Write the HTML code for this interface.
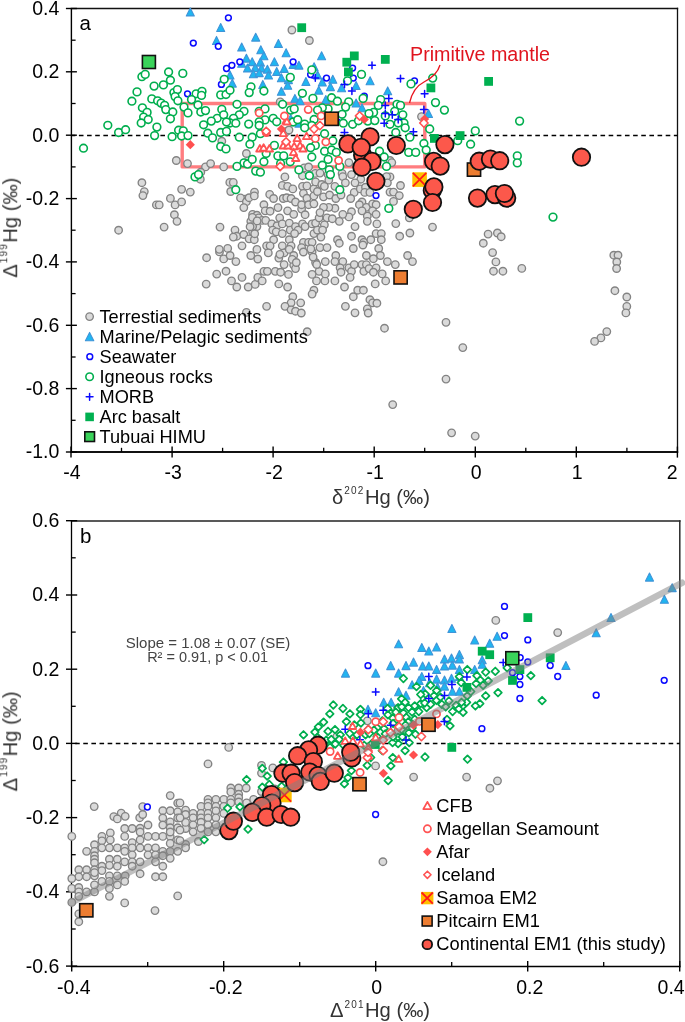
<!DOCTYPE html>
<html><head><meta charset="utf-8"><style>
html,body{margin:0;padding:0;background:#fff;}
svg{display:block;font-family:"Liberation Sans", sans-serif;}
text{will-change:transform;}

.g{fill:#dadada;stroke:#838383;stroke-width:1.35}
.t{fill:#1fb6f1;stroke:#3f94d8;stroke-width:1.1;stroke-linejoin:round}
.s{fill:#fff;stroke:#0a0aff;stroke-width:1.5}
.i{fill:#fff;stroke:#00ae4e;stroke-width:1.6}
.id{fill:#fff;stroke:#00ae4e;stroke-width:1.75;stroke-linejoin:round}
.m{fill:none;stroke:#0a0aff;stroke-width:1.5;stroke-linecap:round}
.ab{fill:#00b050;stroke:none}
.h{fill:#3ad35a;stroke:#111;stroke-width:1.6}
.p{fill:#ed7d31;stroke:#111;stroke-width:1.6}
.sm{fill:#ffc000;stroke:none}
.smx{stroke:#ff1a1a;stroke-width:1.8;fill:none}
.c{fill:#fc584b;stroke:#111;stroke-width:1.8}
.cf{fill:#fff;stroke:#ff5353;stroke-width:1.8;stroke-linejoin:round}
.mg{fill:#fff;stroke:#ff5353;stroke-width:1.7}
.af{fill:#ff4f4f;stroke:none}
.ic{fill:#fff;stroke:#ff5353;stroke-width:1.6;stroke-linejoin:round}

</style></head><body>
<svg width="685" height="1022" viewBox="0 0 685 1022">
<rect width="685" height="1022" fill="#fff"/>
<line x1="70.7" y1="8.5" x2="678.15" y2="8.5" stroke="#111" stroke-width="1.5"/>
<line x1="70.7" y1="452.0" x2="678.15" y2="452.0" stroke="#111" stroke-width="1.8"/>
<line x1="71.4" y1="8.5" x2="71.4" y2="452.9" stroke="#000" stroke-width="1.4"/>
<line x1="677.5" y1="7.75" x2="677.5" y2="452.9" stroke="#111" stroke-width="1.3"/>
<line x1="65.9" y1="8.5" x2="76.9" y2="8.5" stroke="#000" stroke-width="1.4"/>
<text x="59.3" y="14.9" font-size="19.5" text-anchor="end" fill="#000" >0.4</text>
<line x1="65.9" y1="71.8" x2="76.9" y2="71.8" stroke="#000" stroke-width="1.4"/>
<text x="59.3" y="78.2" font-size="19.5" text-anchor="end" fill="#000" >0.2</text>
<line x1="65.9" y1="135.2" x2="76.9" y2="135.2" stroke="#000" stroke-width="1.4"/>
<text x="59.3" y="141.6" font-size="19.5" text-anchor="end" fill="#000" >0.0</text>
<line x1="65.9" y1="198.6" x2="76.9" y2="198.6" stroke="#000" stroke-width="1.4"/>
<text x="59.3" y="205.0" font-size="19.5" text-anchor="end" fill="#000" >-0.2</text>
<line x1="65.9" y1="261.9" x2="76.9" y2="261.9" stroke="#000" stroke-width="1.4"/>
<text x="59.3" y="268.3" font-size="19.5" text-anchor="end" fill="#000" >-0.4</text>
<line x1="65.9" y1="325.3" x2="76.9" y2="325.3" stroke="#000" stroke-width="1.4"/>
<text x="59.3" y="331.7" font-size="19.5" text-anchor="end" fill="#000" >-0.6</text>
<line x1="65.9" y1="388.6" x2="76.9" y2="388.6" stroke="#000" stroke-width="1.4"/>
<text x="59.3" y="395.0" font-size="19.5" text-anchor="end" fill="#000" >-0.8</text>
<line x1="65.9" y1="452.0" x2="76.9" y2="452.0" stroke="#000" stroke-width="1.4"/>
<text x="59.3" y="458.4" font-size="19.5" text-anchor="end" fill="#000" >-1.0</text>
<line x1="71.4" y1="40.2" x2="75.60000000000001" y2="40.2" stroke="#000" stroke-width="1.3"/>
<line x1="71.4" y1="103.5" x2="75.60000000000001" y2="103.5" stroke="#000" stroke-width="1.3"/>
<line x1="71.4" y1="166.9" x2="75.60000000000001" y2="166.9" stroke="#000" stroke-width="1.3"/>
<line x1="71.4" y1="230.2" x2="75.60000000000001" y2="230.2" stroke="#000" stroke-width="1.3"/>
<line x1="71.4" y1="293.6" x2="75.60000000000001" y2="293.6" stroke="#000" stroke-width="1.3"/>
<line x1="71.4" y1="357.0" x2="75.60000000000001" y2="357.0" stroke="#000" stroke-width="1.3"/>
<line x1="71.4" y1="420.3" x2="75.60000000000001" y2="420.3" stroke="#000" stroke-width="1.3"/>
<line x1="71.0" y1="446.6" x2="71.0" y2="457.6" stroke="#000" stroke-width="1.4"/>
<text x="72.0" y="479.3" font-size="19.5" text-anchor="middle" fill="#000" >-4</text>
<line x1="172.1" y1="446.6" x2="172.1" y2="457.6" stroke="#000" stroke-width="1.4"/>
<text x="173.1" y="479.3" font-size="19.5" text-anchor="middle" fill="#000" >-3</text>
<line x1="273.1" y1="446.6" x2="273.1" y2="457.6" stroke="#000" stroke-width="1.4"/>
<text x="274.1" y="479.3" font-size="19.5" text-anchor="middle" fill="#000" >-2</text>
<line x1="374.2" y1="446.6" x2="374.2" y2="457.6" stroke="#000" stroke-width="1.4"/>
<text x="375.2" y="479.3" font-size="19.5" text-anchor="middle" fill="#000" >-1</text>
<line x1="475.3" y1="446.6" x2="475.3" y2="457.6" stroke="#000" stroke-width="1.4"/>
<text x="476.3" y="479.3" font-size="19.5" text-anchor="middle" fill="#000" >0</text>
<line x1="576.3" y1="446.6" x2="576.3" y2="457.6" stroke="#000" stroke-width="1.4"/>
<text x="577.3" y="479.3" font-size="19.5" text-anchor="middle" fill="#000" >1</text>
<line x1="677.4" y1="446.6" x2="677.4" y2="457.6" stroke="#000" stroke-width="1.4"/>
<text x="677.6" y="479.3" font-size="19.5" text-anchor="end" fill="#000" >2</text>
<line x1="121.5" y1="447.8" x2="121.5" y2="452.0" stroke="#000" stroke-width="1.3"/>
<line x1="222.6" y1="447.8" x2="222.6" y2="452.0" stroke="#000" stroke-width="1.3"/>
<line x1="323.7" y1="447.8" x2="323.7" y2="452.0" stroke="#000" stroke-width="1.3"/>
<line x1="424.7" y1="447.8" x2="424.7" y2="452.0" stroke="#000" stroke-width="1.3"/>
<line x1="525.8" y1="447.8" x2="525.8" y2="452.0" stroke="#000" stroke-width="1.3"/>
<line x1="626.9" y1="447.8" x2="626.9" y2="452.0" stroke="#000" stroke-width="1.3"/>
<line x1="71.4" y1="135.5" x2="677.5" y2="135.5" stroke="#000" stroke-width="1.3" stroke-dasharray="4.6 3.55" stroke-dashoffset="0.65"/>
<rect x="182.2" y="103.5" width="242.6" height="63.4" fill="none" stroke="#ff7d80" stroke-width="3.4" stroke-linejoin="round"/>
<circle cx="291.9" cy="30.0" r="3.75" class="g"/>
<circle cx="309.4" cy="40.5" r="3.75" class="g"/>
<circle cx="280.2" cy="101.9" r="3.75" class="g"/>
<circle cx="421.5" cy="116.6" r="3.75" class="g"/>
<circle cx="176.3" cy="160.5" r="3.75" class="g"/>
<circle cx="187.5" cy="163.6" r="3.75" class="g"/>
<circle cx="205.5" cy="166.9" r="3.75" class="g"/>
<circle cx="210.6" cy="163.6" r="3.75" class="g"/>
<circle cx="223.7" cy="166.9" r="3.75" class="g"/>
<circle cx="221.8" cy="141.2" r="3.75" class="g"/>
<circle cx="141.9" cy="182.7" r="3.75" class="g"/>
<circle cx="144.3" cy="191.6" r="3.75" class="g"/>
<circle cx="142.9" cy="195.6" r="3.75" class="g"/>
<circle cx="181.6" cy="189.3" r="3.75" class="g"/>
<circle cx="190.3" cy="192.1" r="3.75" class="g"/>
<circle cx="200.8" cy="172.2" r="3.75" class="g"/>
<circle cx="200.3" cy="179.2" r="3.75" class="g"/>
<circle cx="170.4" cy="198.4" r="3.75" class="g"/>
<circle cx="156.4" cy="204.9" r="3.75" class="g"/>
<circle cx="159.2" cy="204.9" r="3.75" class="g"/>
<circle cx="175.1" cy="204.9" r="3.75" class="g"/>
<circle cx="181.6" cy="201.9" r="3.75" class="g"/>
<circle cx="174.4" cy="214.7" r="3.75" class="g"/>
<circle cx="177.0" cy="221.3" r="3.75" class="g"/>
<circle cx="164.1" cy="227.1" r="3.75" class="g"/>
<circle cx="118.6" cy="230.2" r="3.75" class="g"/>
<circle cx="220.0" cy="227.1" r="3.75" class="g"/>
<circle cx="246.4" cy="153.5" r="3.75" class="g"/>
<circle cx="245.2" cy="162.9" r="3.75" class="g"/>
<circle cx="254.5" cy="192.1" r="3.75" class="g"/>
<circle cx="245.2" cy="199.1" r="3.75" class="g"/>
<circle cx="240.5" cy="197.9" r="3.75" class="g"/>
<circle cx="269.7" cy="194.4" r="3.75" class="g"/>
<circle cx="284.9" cy="176.9" r="3.75" class="g"/>
<circle cx="302.4" cy="175.7" r="3.75" class="g"/>
<circle cx="315.3" cy="173.4" r="3.75" class="g"/>
<circle cx="328.1" cy="174.6" r="3.75" class="g"/>
<circle cx="342.1" cy="173.4" r="3.75" class="g"/>
<circle cx="351.5" cy="174.6" r="3.75" class="g"/>
<circle cx="360.8" cy="179.2" r="3.75" class="g"/>
<circle cx="400.5" cy="185.5" r="3.75" class="g"/>
<circle cx="390.0" cy="192.1" r="3.75" class="g"/>
<circle cx="393.5" cy="192.1" r="3.75" class="g"/>
<circle cx="399.3" cy="195.6" r="3.75" class="g"/>
<circle cx="393.5" cy="201.4" r="3.75" class="g"/>
<circle cx="395.8" cy="223.6" r="3.75" class="g"/>
<circle cx="409.9" cy="233.0" r="3.75" class="g"/>
<circle cx="432.5" cy="227.1" r="3.75" class="g"/>
<circle cx="488.1" cy="234.1" r="3.75" class="g"/>
<circle cx="497.4" cy="233.0" r="3.75" class="g"/>
<circle cx="390.0" cy="176.9" r="3.75" class="g"/>
<circle cx="390.0" cy="160.5" r="3.75" class="g"/>
<circle cx="206.6" cy="257.7" r="3.75" class="g"/>
<circle cx="219.5" cy="251.9" r="3.75" class="g"/>
<circle cx="223.7" cy="258.9" r="3.75" class="g"/>
<circle cx="227.7" cy="248.4" r="3.75" class="g"/>
<circle cx="216.7" cy="274.1" r="3.75" class="g"/>
<circle cx="226.0" cy="271.2" r="3.75" class="g"/>
<circle cx="206.2" cy="284.1" r="3.75" class="g"/>
<circle cx="229.8" cy="182.4" r="3.75" class="g"/>
<circle cx="233.3" cy="182.4" r="3.75" class="g"/>
<circle cx="230.7" cy="191.5" r="3.75" class="g"/>
<circle cx="246.4" cy="201.7" r="3.75" class="g"/>
<circle cx="249.1" cy="197.7" r="3.75" class="g"/>
<circle cx="254.3" cy="195.9" r="3.75" class="g"/>
<circle cx="243.8" cy="207.6" r="3.75" class="g"/>
<circle cx="273.6" cy="198.5" r="3.75" class="g"/>
<circle cx="263.9" cy="204.7" r="3.75" class="g"/>
<circle cx="265.2" cy="210.8" r="3.75" class="g"/>
<circle cx="270.1" cy="211.2" r="3.75" class="g"/>
<circle cx="278.0" cy="207.6" r="3.75" class="g"/>
<circle cx="252.6" cy="214.3" r="3.75" class="g"/>
<circle cx="256.9" cy="215.2" r="3.75" class="g"/>
<circle cx="258.7" cy="217.8" r="3.75" class="g"/>
<circle cx="250.8" cy="221.3" r="3.75" class="g"/>
<circle cx="262.2" cy="220.4" r="3.75" class="g"/>
<circle cx="265.7" cy="220.4" r="3.75" class="g"/>
<circle cx="271.8" cy="223.9" r="3.75" class="g"/>
<circle cx="277.1" cy="225.7" r="3.75" class="g"/>
<circle cx="279.7" cy="217.8" r="3.75" class="g"/>
<circle cx="282.3" cy="185.4" r="3.75" class="g"/>
<circle cx="287.6" cy="186.3" r="3.75" class="g"/>
<circle cx="292.8" cy="188.9" r="3.75" class="g"/>
<circle cx="283.2" cy="198.5" r="3.75" class="g"/>
<circle cx="286.7" cy="197.7" r="3.75" class="g"/>
<circle cx="291.1" cy="198.5" r="3.75" class="g"/>
<circle cx="295.5" cy="202.0" r="3.75" class="g"/>
<circle cx="287.6" cy="210.8" r="3.75" class="g"/>
<circle cx="293.7" cy="214.3" r="3.75" class="g"/>
<circle cx="301.6" cy="209.1" r="3.75" class="g"/>
<circle cx="305.1" cy="214.7" r="3.75" class="g"/>
<circle cx="304.2" cy="167.9" r="3.75" class="g"/>
<circle cx="308.6" cy="167.0" r="3.75" class="g"/>
<circle cx="302.5" cy="186.3" r="3.75" class="g"/>
<circle cx="306.9" cy="185.9" r="3.75" class="g"/>
<circle cx="313.9" cy="188.9" r="3.75" class="g"/>
<circle cx="315.6" cy="181.9" r="3.75" class="g"/>
<circle cx="303.4" cy="193.3" r="3.75" class="g"/>
<circle cx="306.9" cy="198.2" r="3.75" class="g"/>
<circle cx="313.9" cy="195.9" r="3.75" class="g"/>
<circle cx="301.6" cy="204.7" r="3.75" class="g"/>
<circle cx="308.6" cy="204.7" r="3.75" class="g"/>
<circle cx="313.9" cy="203.8" r="3.75" class="g"/>
<circle cx="235.0" cy="230.1" r="3.75" class="g"/>
<circle cx="236.8" cy="236.2" r="3.75" class="g"/>
<circle cx="233.3" cy="237.1" r="3.75" class="g"/>
<circle cx="243.8" cy="234.5" r="3.75" class="g"/>
<circle cx="252.6" cy="231.8" r="3.75" class="g"/>
<circle cx="249.1" cy="238.8" r="3.75" class="g"/>
<circle cx="254.3" cy="239.7" r="3.75" class="g"/>
<circle cx="256.9" cy="226.6" r="3.75" class="g"/>
<circle cx="252.6" cy="226.6" r="3.75" class="g"/>
<circle cx="272.7" cy="230.1" r="3.75" class="g"/>
<circle cx="276.2" cy="231.8" r="3.75" class="g"/>
<circle cx="282.3" cy="223.9" r="3.75" class="g"/>
<circle cx="289.3" cy="223.1" r="3.75" class="g"/>
<circle cx="290.2" cy="230.1" r="3.75" class="g"/>
<circle cx="295.5" cy="226.6" r="3.75" class="g"/>
<circle cx="298.1" cy="230.1" r="3.75" class="g"/>
<circle cx="302.5" cy="223.9" r="3.75" class="g"/>
<circle cx="305.1" cy="226.6" r="3.75" class="g"/>
<circle cx="312.1" cy="223.9" r="3.75" class="g"/>
<circle cx="315.6" cy="223.1" r="3.75" class="g"/>
<circle cx="282.3" cy="233.6" r="3.75" class="g"/>
<circle cx="289.3" cy="239.7" r="3.75" class="g"/>
<circle cx="294.6" cy="233.6" r="3.75" class="g"/>
<circle cx="303.4" cy="242.3" r="3.75" class="g"/>
<circle cx="308.6" cy="242.3" r="3.75" class="g"/>
<circle cx="312.1" cy="242.3" r="3.75" class="g"/>
<circle cx="273.6" cy="239.7" r="3.75" class="g"/>
<circle cx="242.0" cy="245.8" r="3.75" class="g"/>
<circle cx="219.3" cy="249.3" r="3.75" class="g"/>
<circle cx="266.6" cy="245.8" r="3.75" class="g"/>
<circle cx="270.1" cy="245.8" r="3.75" class="g"/>
<circle cx="282.3" cy="245.8" r="3.75" class="g"/>
<circle cx="291.1" cy="245.8" r="3.75" class="g"/>
<circle cx="301.6" cy="247.6" r="3.75" class="g"/>
<circle cx="313.9" cy="233.6" r="3.75" class="g"/>
<circle cx="317.4" cy="230.1" r="3.75" class="g"/>
<circle cx="319.1" cy="217.8" r="3.75" class="g"/>
<circle cx="317.4" cy="191.5" r="3.75" class="g"/>
<circle cx="320.0" cy="173.1" r="3.75" class="g"/>
<circle cx="321.8" cy="184.5" r="3.75" class="g"/>
<circle cx="324.4" cy="186.3" r="3.75" class="g"/>
<circle cx="328.8" cy="180.1" r="3.75" class="g"/>
<circle cx="334.9" cy="186.3" r="3.75" class="g"/>
<circle cx="323.5" cy="196.8" r="3.75" class="g"/>
<circle cx="329.6" cy="195.0" r="3.75" class="g"/>
<circle cx="335.8" cy="198.5" r="3.75" class="g"/>
<circle cx="341.0" cy="195.0" r="3.75" class="g"/>
<circle cx="342.8" cy="176.6" r="3.75" class="g"/>
<circle cx="345.4" cy="182.8" r="3.75" class="g"/>
<circle cx="348.9" cy="162.6" r="3.75" class="g"/>
<circle cx="355.0" cy="182.8" r="3.75" class="g"/>
<circle cx="354.2" cy="192.4" r="3.75" class="g"/>
<circle cx="350.7" cy="198.5" r="3.75" class="g"/>
<circle cx="360.3" cy="188.9" r="3.75" class="g"/>
<circle cx="365.5" cy="187.2" r="3.75" class="g"/>
<circle cx="364.7" cy="192.4" r="3.75" class="g"/>
<circle cx="369.9" cy="192.4" r="3.75" class="g"/>
<circle cx="362.0" cy="202.0" r="3.75" class="g"/>
<circle cx="359.4" cy="204.7" r="3.75" class="g"/>
<circle cx="366.4" cy="207.3" r="3.75" class="g"/>
<circle cx="372.6" cy="203.8" r="3.75" class="g"/>
<circle cx="376.1" cy="204.7" r="3.75" class="g"/>
<circle cx="372.6" cy="210.8" r="3.75" class="g"/>
<circle cx="376.1" cy="214.3" r="3.75" class="g"/>
<circle cx="367.3" cy="216.1" r="3.75" class="g"/>
<circle cx="367.3" cy="221.3" r="3.75" class="g"/>
<circle cx="362.0" cy="210.8" r="3.75" class="g"/>
<circle cx="351.5" cy="211.7" r="3.75" class="g"/>
<circle cx="348.9" cy="216.9" r="3.75" class="g"/>
<circle cx="342.8" cy="214.3" r="3.75" class="g"/>
<circle cx="339.3" cy="221.3" r="3.75" class="g"/>
<circle cx="334.9" cy="208.2" r="3.75" class="g"/>
<circle cx="328.8" cy="207.3" r="3.75" class="g"/>
<circle cx="323.5" cy="207.3" r="3.75" class="g"/>
<circle cx="320.0" cy="212.6" r="3.75" class="g"/>
<circle cx="327.0" cy="217.8" r="3.75" class="g"/>
<circle cx="332.3" cy="218.7" r="3.75" class="g"/>
<circle cx="324.4" cy="224.8" r="3.75" class="g"/>
<circle cx="322.6" cy="230.1" r="3.75" class="g"/>
<circle cx="320.9" cy="237.1" r="3.75" class="g"/>
<circle cx="355.0" cy="226.6" r="3.75" class="g"/>
<circle cx="376.9" cy="223.9" r="3.75" class="g"/>
<circle cx="351.5" cy="236.2" r="3.75" class="g"/>
<circle cx="337.5" cy="239.7" r="3.75" class="g"/>
<circle cx="339.3" cy="243.2" r="3.75" class="g"/>
<circle cx="362.0" cy="239.7" r="3.75" class="g"/>
<circle cx="363.8" cy="242.3" r="3.75" class="g"/>
<circle cx="370.8" cy="239.7" r="3.75" class="g"/>
<circle cx="376.1" cy="233.6" r="3.75" class="g"/>
<circle cx="381.3" cy="233.6" r="3.75" class="g"/>
<circle cx="381.3" cy="239.7" r="3.75" class="g"/>
<circle cx="399.7" cy="236.2" r="3.75" class="g"/>
<circle cx="353.3" cy="248.5" r="3.75" class="g"/>
<circle cx="378.7" cy="248.5" r="3.75" class="g"/>
<circle cx="386.6" cy="176.6" r="3.75" class="g"/>
<circle cx="387.4" cy="182.8" r="3.75" class="g"/>
<circle cx="391.8" cy="162.6" r="3.75" class="g"/>
<circle cx="409.3" cy="217.8" r="3.75" class="g"/>
<circle cx="320.0" cy="247.6" r="3.75" class="g"/>
<circle cx="327.0" cy="247.6" r="3.75" class="g"/>
<circle cx="230.1" cy="255.5" r="3.75" class="g"/>
<circle cx="235.9" cy="261.6" r="3.75" class="g"/>
<circle cx="231.5" cy="280.9" r="3.75" class="g"/>
<circle cx="236.8" cy="287.0" r="3.75" class="g"/>
<circle cx="242.0" cy="277.4" r="3.75" class="g"/>
<circle cx="248.2" cy="287.0" r="3.75" class="g"/>
<circle cx="255.2" cy="284.4" r="3.75" class="g"/>
<circle cx="257.8" cy="277.4" r="3.75" class="g"/>
<circle cx="262.2" cy="280.9" r="3.75" class="g"/>
<circle cx="250.8" cy="255.5" r="3.75" class="g"/>
<circle cx="257.8" cy="259.0" r="3.75" class="g"/>
<circle cx="256.9" cy="249.4" r="3.75" class="g"/>
<circle cx="268.3" cy="252.9" r="3.75" class="g"/>
<circle cx="263.9" cy="271.3" r="3.75" class="g"/>
<circle cx="267.4" cy="271.3" r="3.75" class="g"/>
<circle cx="275.3" cy="271.3" r="3.75" class="g"/>
<circle cx="280.6" cy="272.2" r="3.75" class="g"/>
<circle cx="288.5" cy="274.4" r="3.75" class="g"/>
<circle cx="278.8" cy="258.1" r="3.75" class="g"/>
<circle cx="284.1" cy="252.9" r="3.75" class="g"/>
<circle cx="289.3" cy="249.4" r="3.75" class="g"/>
<circle cx="293.7" cy="255.5" r="3.75" class="g"/>
<circle cx="284.1" cy="264.6" r="3.75" class="g"/>
<circle cx="293.7" cy="265.1" r="3.75" class="g"/>
<circle cx="295.5" cy="268.6" r="3.75" class="g"/>
<circle cx="303.4" cy="252.0" r="3.75" class="g"/>
<circle cx="312.1" cy="252.0" r="3.75" class="g"/>
<circle cx="315.6" cy="262.5" r="3.75" class="g"/>
<circle cx="312.1" cy="274.4" r="3.75" class="g"/>
<circle cx="316.5" cy="280.9" r="3.75" class="g"/>
<circle cx="319.1" cy="271.3" r="3.75" class="g"/>
<circle cx="313.9" cy="290.2" r="3.75" class="g"/>
<circle cx="312.1" cy="294.1" r="3.75" class="g"/>
<circle cx="278.8" cy="283.9" r="3.75" class="g"/>
<circle cx="287.6" cy="287.0" r="3.75" class="g"/>
<circle cx="292.8" cy="296.7" r="3.75" class="g"/>
<circle cx="291.1" cy="302.8" r="3.75" class="g"/>
<circle cx="285.0" cy="306.3" r="3.75" class="g"/>
<circle cx="291.1" cy="309.8" r="3.75" class="g"/>
<circle cx="295.5" cy="311.2" r="3.75" class="g"/>
<circle cx="300.7" cy="302.8" r="3.75" class="g"/>
<circle cx="301.3" cy="313.0" r="3.75" class="g"/>
<circle cx="266.6" cy="306.3" r="3.75" class="g"/>
<circle cx="246.4" cy="312.4" r="3.75" class="g"/>
<circle cx="307.2" cy="331.7" r="3.75" class="g"/>
<circle cx="362.9" cy="245.0" r="3.75" class="g"/>
<circle cx="380.4" cy="255.5" r="3.75" class="g"/>
<circle cx="366.4" cy="255.5" r="3.75" class="g"/>
<circle cx="373.4" cy="258.7" r="3.75" class="g"/>
<circle cx="335.8" cy="255.5" r="3.75" class="g"/>
<circle cx="325.3" cy="261.6" r="3.75" class="g"/>
<circle cx="334.9" cy="261.6" r="3.75" class="g"/>
<circle cx="342.8" cy="261.6" r="3.75" class="g"/>
<circle cx="340.1" cy="267.8" r="3.75" class="g"/>
<circle cx="341.0" cy="272.2" r="3.75" class="g"/>
<circle cx="348.9" cy="267.8" r="3.75" class="g"/>
<circle cx="351.5" cy="271.3" r="3.75" class="g"/>
<circle cx="354.2" cy="264.6" r="3.75" class="g"/>
<circle cx="362.0" cy="264.6" r="3.75" class="g"/>
<circle cx="366.4" cy="264.6" r="3.75" class="g"/>
<circle cx="363.8" cy="271.3" r="3.75" class="g"/>
<circle cx="369.1" cy="268.6" r="3.75" class="g"/>
<circle cx="376.1" cy="267.8" r="3.75" class="g"/>
<circle cx="373.4" cy="272.2" r="3.75" class="g"/>
<circle cx="387.4" cy="261.6" r="3.75" class="g"/>
<circle cx="395.3" cy="264.6" r="3.75" class="g"/>
<circle cx="407.6" cy="255.5" r="3.75" class="g"/>
<circle cx="412.5" cy="261.6" r="3.75" class="g"/>
<circle cx="382.2" cy="273.9" r="3.75" class="g"/>
<circle cx="385.7" cy="280.9" r="3.75" class="g"/>
<circle cx="375.2" cy="283.9" r="3.75" class="g"/>
<circle cx="350.1" cy="277.4" r="3.75" class="g"/>
<circle cx="334.9" cy="280.9" r="3.75" class="g"/>
<circle cx="324.9" cy="280.9" r="3.75" class="g"/>
<circle cx="325.3" cy="273.9" r="3.75" class="g"/>
<circle cx="344.5" cy="287.0" r="3.75" class="g"/>
<circle cx="357.7" cy="290.2" r="3.75" class="g"/>
<circle cx="363.4" cy="290.2" r="3.75" class="g"/>
<circle cx="353.3" cy="296.7" r="3.75" class="g"/>
<circle cx="369.9" cy="299.7" r="3.75" class="g"/>
<circle cx="372.6" cy="302.8" r="3.75" class="g"/>
<circle cx="376.9" cy="303.2" r="3.75" class="g"/>
<circle cx="345.4" cy="306.3" r="3.75" class="g"/>
<circle cx="367.3" cy="308.9" r="3.75" class="g"/>
<circle cx="368.2" cy="313.0" r="3.75" class="g"/>
<circle cx="355.0" cy="312.8" r="3.75" class="g"/>
<circle cx="384.5" cy="328.2" r="3.75" class="g"/>
<circle cx="483.3" cy="243.2" r="3.75" class="g"/>
<circle cx="501.2" cy="236.7" r="3.75" class="g"/>
<circle cx="492.6" cy="252.6" r="3.75" class="g"/>
<circle cx="495.9" cy="261.9" r="3.75" class="g"/>
<circle cx="493.5" cy="271.2" r="3.75" class="g"/>
<circle cx="502.9" cy="271.2" r="3.75" class="g"/>
<circle cx="521.8" cy="268.4" r="3.75" class="g"/>
<circle cx="613.8" cy="255.2" r="3.75" class="g"/>
<circle cx="618.0" cy="255.2" r="3.75" class="g"/>
<circle cx="616.8" cy="262.0" r="3.75" class="g"/>
<circle cx="616.6" cy="268.5" r="3.75" class="g"/>
<circle cx="614.9" cy="290.7" r="3.75" class="g"/>
<circle cx="626.8" cy="297.0" r="3.75" class="g"/>
<circle cx="626.8" cy="306.4" r="3.75" class="g"/>
<circle cx="625.9" cy="312.9" r="3.75" class="g"/>
<circle cx="606.8" cy="331.6" r="3.75" class="g"/>
<circle cx="600.9" cy="337.9" r="3.75" class="g"/>
<circle cx="594.6" cy="341.4" r="3.75" class="g"/>
<circle cx="446.0" cy="322.3" r="3.75" class="g"/>
<circle cx="462.8" cy="347.6" r="3.75" class="g"/>
<circle cx="446.0" cy="379.1" r="3.75" class="g"/>
<circle cx="392.7" cy="404.6" r="3.75" class="g"/>
<circle cx="451.6" cy="432.8" r="3.75" class="g"/>
<circle cx="475.2" cy="436.1" r="3.75" class="g"/>
<circle cx="310.8" cy="248.9" r="3.75" class="g"/>
<circle cx="313.1" cy="257.1" r="3.75" class="g"/>
<circle cx="250.1" cy="226.7" r="3.75" class="g"/>
<circle cx="254.7" cy="233.7" r="3.75" class="g"/>
<circle cx="252.4" cy="217.4" r="3.75" class="g"/>
<circle cx="257.1" cy="220.9" r="3.75" class="g"/>
<circle cx="279.9" cy="254.3" r="3.75" class="g"/>
<circle cx="292.2" cy="259.4" r="3.75" class="g"/>
<circle cx="296.3" cy="262.5" r="3.75" class="g"/>
<circle cx="316.7" cy="264.5" r="3.75" class="g"/>
<circle cx="286.5" cy="131.5" r="3.75" class="g"/>
<circle cx="289.0" cy="130.0" r="3.75" class="g"/>
<path d="M190.3 7.9L194.3 15.9L186.3 15.9Z" class="t"/>
<path d="M220.7 23.6L224.7 31.5L216.7 31.5Z" class="t"/>
<path d="M216.5 36.4L220.5 44.4L212.5 44.4Z" class="t"/>
<path d="M255.7 33.2L259.7 41.1L251.7 41.1Z" class="t"/>
<path d="M278.4 39.5L282.4 47.4L274.4 47.4Z" class="t"/>
<path d="M241.7 43.0L245.7 50.9L237.7 50.9Z" class="t"/>
<path d="M260.8 45.8L264.8 53.7L256.8 53.7Z" class="t"/>
<path d="M263.9 51.8L267.9 59.8L259.9 59.8Z" class="t"/>
<path d="M286.1 48.8L290.1 56.8L282.1 56.8Z" class="t"/>
<path d="M321.6 51.8L325.6 59.8L317.6 59.8Z" class="t"/>
<path d="M246.4 54.2L250.4 62.1L242.4 62.1Z" class="t"/>
<path d="M252.2 57.7L256.2 65.6L248.2 65.6Z" class="t"/>
<path d="M274.4 57.7L278.4 65.6L270.4 65.6Z" class="t"/>
<path d="M260.4 58.1L264.4 66.1L256.4 66.1Z" class="t"/>
<path d="M293.1 60.5L297.1 68.4L289.1 68.4Z" class="t"/>
<path d="M298.9 61.2L302.9 69.1L294.9 69.1Z" class="t"/>
<path d="M241.7 59.3L245.7 67.3L237.7 67.3Z" class="t"/>
<path d="M247.5 64.0L251.5 71.9L243.5 71.9Z" class="t"/>
<path d="M255.2 63.5L259.2 71.5L251.2 71.5Z" class="t"/>
<path d="M261.5 64.0L265.5 71.9L257.5 71.9Z" class="t"/>
<path d="M267.4 65.2L271.4 73.1L263.4 73.1Z" class="t"/>
<path d="M276.7 67.5L280.7 75.4L272.7 75.4Z" class="t"/>
<path d="M284.2 64.5L288.2 72.4L280.2 72.4Z" class="t"/>
<path d="M253.4 69.8L257.4 77.8L249.4 77.8Z" class="t"/>
<path d="M259.2 68.7L263.2 76.6L255.2 76.6Z" class="t"/>
<path d="M268.5 71.0L272.5 79.0L264.5 79.0Z" class="t"/>
<path d="M281.4 73.8L285.4 81.8L277.4 81.8Z" class="t"/>
<path d="M288.4 75.7L292.4 83.6L284.4 83.6Z" class="t"/>
<path d="M305.9 77.5L309.9 85.5L301.9 85.5Z" class="t"/>
<path d="M230.0 71.0L234.0 79.0L226.0 79.0Z" class="t"/>
<path d="M232.3 79.2L236.3 87.1L228.3 87.1Z" class="t"/>
<path d="M370.1 76.8L374.1 84.8L366.1 84.8Z" class="t"/>
<path d="M314.1 62.8L318.1 70.8L310.1 70.8Z" class="t"/>
<path d="M317.6 71.0L321.6 79.0L313.6 79.0Z" class="t"/>
<path d="M322.3 78.0L326.3 86.0L318.3 86.0Z" class="t"/>
<path d="M332.8 75.2L336.8 83.2L328.8 83.2Z" class="t"/>
<path d="M330.4 82.7L334.4 90.6L326.4 90.6Z" class="t"/>
<path d="M341.6 83.8L345.6 91.8L337.6 91.8Z" class="t"/>
<path d="M356.1 81.5L360.1 89.5L352.1 89.5Z" class="t"/>
<path d="M387.7 86.9L391.7 94.8L383.7 94.8Z" class="t"/>
<path d="M281.4 87.3L285.4 95.3L277.4 95.3Z" class="t"/>
<path d="M294.9 94.4L298.9 102.3L290.9 102.3Z" class="t"/>
<path d="M300.1 96.7L304.1 104.6L296.1 104.6Z" class="t"/>
<path d="M318.8 86.2L322.8 94.1L314.8 94.1Z" class="t"/>
<path d="M325.8 95.5L329.8 103.5L321.8 103.5Z" class="t"/>
<path d="M356.1 99.0L360.1 107.0L352.1 107.0Z" class="t"/>
<path d="M362.0 103.7L366.0 111.7L358.0 111.7Z" class="t"/>
<path d="M428.5 109.5L432.5 117.5L424.5 117.5Z" class="t"/>
<path d="M298.9 119.1L302.9 127.1L294.9 127.1Z" class="t"/>
<path d="M290.7 114.4L294.7 122.4L286.7 122.4Z" class="t"/>
<path d="M287.7 81.2L291.7 89.2L283.7 89.2Z" class="t"/>
<path d="M262.8 80.4L266.8 88.4L258.8 88.4Z" class="t"/>
<circle cx="193.3" cy="43.1" r="2.9" class="s"/>
<circle cx="218.3" cy="46.3" r="2.9" class="s"/>
<circle cx="228.4" cy="17.8" r="2.9" class="s"/>
<circle cx="226.5" cy="68.5" r="2.9" class="s"/>
<circle cx="221.4" cy="84.4" r="2.9" class="s"/>
<circle cx="187.5" cy="93.8" r="2.9" class="s"/>
<circle cx="239.8" cy="61.8" r="2.9" class="s"/>
<circle cx="231.9" cy="65.3" r="2.9" class="s"/>
<circle cx="293.1" cy="61.8" r="2.9" class="s"/>
<circle cx="352.6" cy="68.1" r="2.9" class="s"/>
<circle cx="310.6" cy="74.6" r="2.9" class="s"/>
<circle cx="326.5" cy="78.1" r="2.9" class="s"/>
<circle cx="353.3" cy="78.1" r="2.9" class="s"/>
<circle cx="364.3" cy="96.1" r="2.9" class="s"/>
<circle cx="414.5" cy="80.9" r="2.9" class="s"/>
<circle cx="376.0" cy="195.6" r="2.9" class="s"/>
<circle cx="337.4" cy="122.0" r="2.9" class="s"/>
<circle cx="141.9" cy="76.7" r="3.85" class="i"/>
<circle cx="145.2" cy="74.4" r="3.85" class="i"/>
<circle cx="168.6" cy="72.0" r="3.85" class="i"/>
<circle cx="182.8" cy="73.4" r="3.85" class="i"/>
<circle cx="170.4" cy="80.2" r="3.85" class="i"/>
<circle cx="163.4" cy="84.9" r="3.85" class="i"/>
<circle cx="154.1" cy="86.1" r="3.85" class="i"/>
<circle cx="137.0" cy="91.9" r="3.85" class="i"/>
<circle cx="131.9" cy="101.2" r="3.85" class="i"/>
<circle cx="151.8" cy="98.9" r="3.85" class="i"/>
<circle cx="157.6" cy="100.8" r="3.85" class="i"/>
<circle cx="161.1" cy="103.1" r="3.85" class="i"/>
<circle cx="164.6" cy="105.4" r="3.85" class="i"/>
<circle cx="165.8" cy="109.6" r="3.85" class="i"/>
<circle cx="172.8" cy="112.0" r="3.85" class="i"/>
<circle cx="170.4" cy="118.8" r="3.85" class="i"/>
<circle cx="173.9" cy="92.6" r="3.85" class="i"/>
<circle cx="177.4" cy="89.6" r="3.85" class="i"/>
<circle cx="175.1" cy="96.6" r="3.85" class="i"/>
<circle cx="177.9" cy="100.8" r="3.85" class="i"/>
<circle cx="184.0" cy="107.1" r="3.85" class="i"/>
<circle cx="188.0" cy="112.9" r="3.85" class="i"/>
<circle cx="196.1" cy="93.8" r="3.85" class="i"/>
<circle cx="202.0" cy="91.4" r="3.85" class="i"/>
<circle cx="201.5" cy="95.4" r="3.85" class="i"/>
<circle cx="191.5" cy="99.6" r="3.85" class="i"/>
<circle cx="198.0" cy="105.0" r="3.85" class="i"/>
<circle cx="200.8" cy="112.0" r="3.85" class="i"/>
<circle cx="205.5" cy="110.6" r="3.85" class="i"/>
<circle cx="220.7" cy="94.9" r="3.85" class="i"/>
<circle cx="226.0" cy="94.5" r="3.85" class="i"/>
<circle cx="224.2" cy="79.3" r="3.85" class="i"/>
<circle cx="221.8" cy="109.4" r="3.85" class="i"/>
<circle cx="217.2" cy="118.3" r="3.85" class="i"/>
<circle cx="223.7" cy="114.8" r="3.85" class="i"/>
<circle cx="211.3" cy="121.1" r="3.85" class="i"/>
<circle cx="142.4" cy="107.8" r="3.85" class="i"/>
<circle cx="147.1" cy="112.4" r="3.85" class="i"/>
<circle cx="143.6" cy="117.1" r="3.85" class="i"/>
<circle cx="148.2" cy="119.5" r="3.85" class="i"/>
<circle cx="141.2" cy="123.0" r="3.85" class="i"/>
<circle cx="311.8" cy="69.9" r="3.85" class="i"/>
<circle cx="290.3" cy="77.4" r="3.85" class="i"/>
<circle cx="361.5" cy="74.4" r="3.85" class="i"/>
<circle cx="347.5" cy="80.9" r="3.85" class="i"/>
<circle cx="251.0" cy="86.8" r="3.85" class="i"/>
<circle cx="249.2" cy="92.6" r="3.85" class="i"/>
<circle cx="263.9" cy="91.0" r="3.85" class="i"/>
<circle cx="302.4" cy="93.3" r="3.85" class="i"/>
<circle cx="230.0" cy="90.3" r="3.85" class="i"/>
<circle cx="237.0" cy="104.3" r="3.85" class="i"/>
<circle cx="244.0" cy="111.3" r="3.85" class="i"/>
<circle cx="239.3" cy="114.8" r="3.85" class="i"/>
<circle cx="233.5" cy="118.3" r="3.85" class="i"/>
<circle cx="230.0" cy="123.0" r="3.85" class="i"/>
<circle cx="259.2" cy="111.3" r="3.85" class="i"/>
<circle cx="265.0" cy="108.9" r="3.85" class="i"/>
<circle cx="282.6" cy="104.3" r="3.85" class="i"/>
<circle cx="290.7" cy="110.1" r="3.85" class="i"/>
<circle cx="294.2" cy="108.9" r="3.85" class="i"/>
<circle cx="312.9" cy="98.4" r="3.85" class="i"/>
<circle cx="331.6" cy="97.7" r="3.85" class="i"/>
<circle cx="337.4" cy="101.2" r="3.85" class="i"/>
<circle cx="348.7" cy="101.9" r="3.85" class="i"/>
<circle cx="345.6" cy="107.1" r="3.85" class="i"/>
<circle cx="363.1" cy="98.4" r="3.85" class="i"/>
<circle cx="380.7" cy="99.6" r="3.85" class="i"/>
<circle cx="378.3" cy="105.4" r="3.85" class="i"/>
<circle cx="373.6" cy="112.4" r="3.85" class="i"/>
<circle cx="369.0" cy="113.6" r="3.85" class="i"/>
<circle cx="342.1" cy="114.3" r="3.85" class="i"/>
<circle cx="328.1" cy="108.9" r="3.85" class="i"/>
<circle cx="322.3" cy="107.8" r="3.85" class="i"/>
<circle cx="317.6" cy="110.1" r="3.85" class="i"/>
<circle cx="314.1" cy="119.5" r="3.85" class="i"/>
<circle cx="304.7" cy="124.1" r="3.85" class="i"/>
<circle cx="273.2" cy="118.3" r="3.85" class="i"/>
<circle cx="276.7" cy="121.8" r="3.85" class="i"/>
<circle cx="265.0" cy="119.9" r="3.85" class="i"/>
<circle cx="259.2" cy="121.8" r="3.85" class="i"/>
<circle cx="248.7" cy="124.1" r="3.85" class="i"/>
<circle cx="367.8" cy="121.1" r="3.85" class="i"/>
<circle cx="374.8" cy="120.6" r="3.85" class="i"/>
<circle cx="385.3" cy="115.9" r="3.85" class="i"/>
<circle cx="411.0" cy="83.9" r="3.85" class="i"/>
<circle cx="432.7" cy="78.1" r="3.85" class="i"/>
<circle cx="435.5" cy="102.6" r="3.85" class="i"/>
<circle cx="444.4" cy="110.1" r="3.85" class="i"/>
<circle cx="519.6" cy="121.1" r="3.85" class="i"/>
<circle cx="397.0" cy="104.3" r="3.85" class="i"/>
<circle cx="400.5" cy="105.4" r="3.85" class="i"/>
<circle cx="394.7" cy="111.3" r="3.85" class="i"/>
<circle cx="402.8" cy="114.8" r="3.85" class="i"/>
<circle cx="404.0" cy="123.0" r="3.85" class="i"/>
<circle cx="398.2" cy="123.0" r="3.85" class="i"/>
<circle cx="83.5" cy="148.2" r="3.85" class="i"/>
<circle cx="107.8" cy="125.3" r="3.85" class="i"/>
<circle cx="118.6" cy="132.5" r="3.85" class="i"/>
<circle cx="125.6" cy="129.7" r="3.85" class="i"/>
<circle cx="156.9" cy="127.1" r="3.85" class="i"/>
<circle cx="154.6" cy="135.6" r="3.85" class="i"/>
<circle cx="172.1" cy="136.7" r="3.85" class="i"/>
<circle cx="178.6" cy="130.2" r="3.85" class="i"/>
<circle cx="183.3" cy="130.9" r="3.85" class="i"/>
<circle cx="181.6" cy="136.0" r="3.85" class="i"/>
<circle cx="188.0" cy="135.6" r="3.85" class="i"/>
<circle cx="203.6" cy="124.8" r="3.85" class="i"/>
<circle cx="207.8" cy="133.2" r="3.85" class="i"/>
<circle cx="212.5" cy="137.9" r="3.85" class="i"/>
<circle cx="226.5" cy="122.0" r="3.85" class="i"/>
<circle cx="220.7" cy="132.5" r="3.85" class="i"/>
<circle cx="226.5" cy="131.4" r="3.85" class="i"/>
<circle cx="220.7" cy="146.5" r="3.85" class="i"/>
<circle cx="226.0" cy="148.9" r="3.85" class="i"/>
<circle cx="195.0" cy="176.9" r="3.85" class="i"/>
<circle cx="198.5" cy="174.6" r="3.85" class="i"/>
<circle cx="235.8" cy="123.2" r="3.85" class="i"/>
<circle cx="239.3" cy="137.2" r="3.85" class="i"/>
<circle cx="259.2" cy="125.5" r="3.85" class="i"/>
<circle cx="252.2" cy="137.2" r="3.85" class="i"/>
<circle cx="249.9" cy="144.2" r="3.85" class="i"/>
<circle cx="260.4" cy="133.7" r="3.85" class="i"/>
<circle cx="274.4" cy="145.4" r="3.85" class="i"/>
<circle cx="266.2" cy="153.5" r="3.85" class="i"/>
<circle cx="277.9" cy="155.9" r="3.85" class="i"/>
<circle cx="283.7" cy="155.9" r="3.85" class="i"/>
<circle cx="293.1" cy="122.0" r="3.85" class="i"/>
<circle cx="311.8" cy="125.5" r="3.85" class="i"/>
<circle cx="304.7" cy="127.8" r="3.85" class="i"/>
<circle cx="297.7" cy="119.7" r="3.85" class="i"/>
<circle cx="315.3" cy="145.4" r="3.85" class="i"/>
<circle cx="310.6" cy="147.7" r="3.85" class="i"/>
<circle cx="324.6" cy="133.7" r="3.85" class="i"/>
<circle cx="332.8" cy="140.7" r="3.85" class="i"/>
<circle cx="324.6" cy="151.2" r="3.85" class="i"/>
<circle cx="331.6" cy="150.0" r="3.85" class="i"/>
<circle cx="336.3" cy="152.4" r="3.85" class="i"/>
<circle cx="328.1" cy="159.4" r="3.85" class="i"/>
<circle cx="322.3" cy="165.2" r="3.85" class="i"/>
<circle cx="329.3" cy="169.9" r="3.85" class="i"/>
<circle cx="330.4" cy="174.6" r="3.85" class="i"/>
<circle cx="339.8" cy="166.4" r="3.85" class="i"/>
<circle cx="311.8" cy="157.0" r="3.85" class="i"/>
<circle cx="298.9" cy="169.9" r="3.85" class="i"/>
<circle cx="309.4" cy="175.7" r="3.85" class="i"/>
<circle cx="244.0" cy="162.9" r="3.85" class="i"/>
<circle cx="247.5" cy="164.1" r="3.85" class="i"/>
<circle cx="255.7" cy="171.1" r="3.85" class="i"/>
<circle cx="260.4" cy="172.2" r="3.85" class="i"/>
<circle cx="263.9" cy="161.7" r="3.85" class="i"/>
<circle cx="252.2" cy="159.4" r="3.85" class="i"/>
<circle cx="237.0" cy="166.4" r="3.85" class="i"/>
<circle cx="235.8" cy="189.7" r="3.85" class="i"/>
<circle cx="339.8" cy="189.7" r="3.85" class="i"/>
<circle cx="343.3" cy="123.2" r="3.85" class="i"/>
<circle cx="352.6" cy="124.3" r="3.85" class="i"/>
<circle cx="358.5" cy="120.8" r="3.85" class="i"/>
<circle cx="379.5" cy="151.2" r="3.85" class="i"/>
<circle cx="384.2" cy="157.0" r="3.85" class="i"/>
<circle cx="386.5" cy="166.4" r="3.85" class="i"/>
<circle cx="388.8" cy="208.4" r="3.85" class="i"/>
<circle cx="475.3" cy="130.9" r="3.85" class="i"/>
<circle cx="470.6" cy="144.2" r="3.85" class="i"/>
<circle cx="457.7" cy="140.7" r="3.85" class="i"/>
<circle cx="429.7" cy="129.0" r="3.85" class="i"/>
<circle cx="423.9" cy="143.5" r="3.85" class="i"/>
<circle cx="426.2" cy="150.0" r="3.85" class="i"/>
<circle cx="408.7" cy="152.4" r="3.85" class="i"/>
<circle cx="415.7" cy="152.4" r="3.85" class="i"/>
<circle cx="390.0" cy="124.3" r="3.85" class="i"/>
<circle cx="395.8" cy="132.5" r="3.85" class="i"/>
<circle cx="405.2" cy="127.8" r="3.85" class="i"/>
<circle cx="409.9" cy="137.2" r="3.85" class="i"/>
<circle cx="517.3" cy="155.9" r="3.85" class="i"/>
<circle cx="517.3" cy="162.9" r="3.85" class="i"/>
<circle cx="553.0" cy="217.1" r="3.85" class="i"/>
<circle cx="280.6" cy="163.5" r="3.85" class="i"/>
<circle cx="290.2" cy="161.8" r="3.85" class="i"/>
<path d="M368.6 65.3H375.4M372.0 61.9V68.7" class="m"/>
<path d="M311.9 77.9H318.7M315.3 74.5V81.3" class="m"/>
<path d="M341.1 84.4H347.9M344.5 81.0V87.8" class="m"/>
<path d="M348.5 91.0H355.3M351.9 87.6V94.4" class="m"/>
<path d="M381.9 105.4H388.7M385.3 102.0V108.8" class="m"/>
<path d="M381.9 113.6H388.7M385.3 110.2V117.0" class="m"/>
<path d="M385.4 98.4H392.2M388.8 95.0V101.8" class="m"/>
<path d="M397.1 78.6H403.9M400.5 75.2V82.0" class="m"/>
<path d="M421.2 93.8H428.0M424.6 90.4V97.2" class="m"/>
<path d="M420.5 109.6H427.3M423.9 106.2V113.0" class="m"/>
<path d="M388.9 114.8H395.7M392.3 111.4V118.2" class="m"/>
<path d="M394.8 119.5H401.6M398.2 116.1V122.9" class="m"/>
<path d="M341.1 132.5H347.9M344.5 129.1V135.9" class="m"/>
<path d="M380.8 123.2H387.6M384.2 119.8V126.6" class="m"/>
<path d="M410.0 131.8H416.8M413.4 128.4V135.2" class="m"/>
<rect x="297.3" y="23.3" width="8.8" height="8.8" class="ab"/>
<rect x="349.9" y="51.5" width="8.8" height="8.8" class="ab"/>
<rect x="342.4" y="57.8" width="8.8" height="8.8" class="ab"/>
<rect x="344.0" y="67.6" width="8.8" height="8.8" class="ab"/>
<rect x="380.9" y="55.0" width="8.8" height="8.8" class="ab"/>
<rect x="426.5" y="83.5" width="8.8" height="8.8" class="ab"/>
<rect x="484.2" y="77.0" width="8.8" height="8.8" class="ab"/>
<rect x="430.0" y="134.0" width="8.8" height="8.8" class="ab"/>
<rect x="455.7" y="131.2" width="8.8" height="8.8" class="ab"/>
<rect x="142.4" y="55.5" width="13.0" height="13.0" class="h"/>
<path d="M286.1 117.1L289.7 123.6L282.4 123.6Z" class="cf"/>
<path d="M259.9 145.0L263.6 151.5L256.2 151.5Z" class="cf"/>
<path d="M263.6 144.2L267.3 150.7L259.9 150.7Z" class="cf"/>
<path d="M269.4 145.0L273.1 151.5L265.7 151.5Z" class="cf"/>
<path d="M283.3 129.6L287.0 136.1L279.6 136.1Z" class="cf"/>
<path d="M283.3 142.0L287.0 148.5L279.6 148.5Z" class="cf"/>
<path d="M287.7 142.0L291.4 148.5L284.0 148.5Z" class="cf"/>
<path d="M294.2 142.8L297.9 149.3L290.5 149.3Z" class="cf"/>
<path d="M297.2 134.7L300.9 141.2L293.5 141.2Z" class="cf"/>
<path d="M300.1 142.0L303.8 148.5L296.4 148.5Z" class="cf"/>
<path d="M303.0 145.0L306.7 151.5L299.3 151.5Z" class="cf"/>
<path d="M293.5 148.6L297.2 155.1L289.8 155.1Z" class="cf"/>
<path d="M295.7 154.5L299.4 161.0L292.0 161.0Z" class="cf"/>
<path d="M306.6 132.6L310.3 139.1L302.9 139.1Z" class="cf"/>
<path d="M286.9 118.0L290.6 124.5L283.2 124.5Z" class="cf"/>
<circle cx="259.2" cy="112.9" r="3.6" class="mg"/>
<circle cx="284.4" cy="115.9" r="3.6" class="mg"/>
<circle cx="308.2" cy="109.6" r="3.6" class="mg"/>
<circle cx="321.1" cy="115.9" r="3.6" class="mg"/>
<circle cx="266.2" cy="132.5" r="3.6" class="mg"/>
<circle cx="315.3" cy="138.4" r="3.6" class="mg"/>
<circle cx="325.8" cy="141.9" r="3.6" class="mg"/>
<circle cx="338.6" cy="160.5" r="3.6" class="mg"/>
<path d="M364.3 114.9L368.9 119.5L364.3 124.1L359.7 119.5Z" class="af"/>
<path d="M424.6 114.4L429.2 119.0L424.6 123.6L420.0 119.0Z" class="af"/>
<path d="M190.3 140.1L194.9 144.7L190.3 149.3L185.7 144.7Z" class="af"/>
<path d="M281.4 124.4L286.0 129.0L281.4 133.6L276.8 129.0Z" class="af"/>
<path d="M359.6 111.7L363.8 115.9L359.6 120.1L355.4 115.9Z" class="ic"/>
<path d="M423.9 118.8L428.1 123.0L423.9 127.2L419.7 123.0Z" class="ic"/>
<path d="M266.2 127.2L270.4 131.4L266.2 135.6L262.0 131.4Z" class="ic"/>
<path d="M280.2 162.2L284.4 166.4L280.2 170.6L276.0 166.4Z" class="ic"/>
<path d="M286.1 137.7L290.3 141.9L286.1 146.1L281.9 141.9Z" class="ic"/>
<path d="M319.9 121.3L324.1 125.5L319.9 129.7L315.7 125.5Z" class="ic"/>
<path d="M314.1 124.8L318.3 129.0L314.1 133.2L309.9 129.0Z" class="ic"/>
<rect x="412.3" y="172.3" width="14.6" height="14.6" class="sm"/><path d="M412.9 172.9L426.3 186.3M426.3 172.9L412.9 186.3" class="smx"/>
<rect x="325.0" y="112.2" width="13.2" height="13.2" class="p"/>
<rect x="394.0" y="270.8" width="13.2" height="13.2" class="p"/>
<rect x="467.4" y="163.0" width="13.2" height="13.2" class="p"/>
<circle cx="362.6" cy="155.0" r="8.7" class="c"/>
<circle cx="347.9" cy="143.9" r="8.7" class="c"/>
<circle cx="370.1" cy="136.9" r="8.7" class="c"/>
<circle cx="361.2" cy="147.4" r="8.7" class="c"/>
<circle cx="372.0" cy="161.4" r="8.7" class="c"/>
<circle cx="361.9" cy="167.2" r="8.7" class="c"/>
<circle cx="375.9" cy="181.3" r="8.7" class="c"/>
<circle cx="396.3" cy="145.5" r="8.7" class="c"/>
<circle cx="444.9" cy="144.6" r="8.7" class="c"/>
<circle cx="433.6" cy="161.4" r="8.7" class="c"/>
<circle cx="440.2" cy="166.1" r="8.7" class="c"/>
<circle cx="432.3" cy="190.5" r="8.7" class="c"/>
<circle cx="433.9" cy="186.9" r="8.7" class="c"/>
<circle cx="432.5" cy="202.5" r="8.7" class="c"/>
<circle cx="413.3" cy="209.3" r="8.7" class="c"/>
<circle cx="479.2" cy="161.2" r="8.7" class="c"/>
<circle cx="490.4" cy="159.1" r="8.7" class="c"/>
<circle cx="499.7" cy="160.7" r="8.7" class="c"/>
<circle cx="581.5" cy="157.2" r="8.7" class="c"/>
<circle cx="477.5" cy="198.1" r="8.7" class="c"/>
<circle cx="495.0" cy="194.6" r="8.7" class="c"/>
<circle cx="506.7" cy="198.1" r="8.7" class="c"/>
<circle cx="504.4" cy="193.5" r="8.7" class="c"/>
<path d="M409.5 103 C412 92 416 86 424 82 C434 77 438 72 440 65" fill="none" stroke="#e8141e" stroke-width="1.3"/>
<text x="410.0" y="60.8" font-size="19.7" text-anchor="start" fill="#e0141e" >Primitive mantle</text>
<text x="79.4" y="29.6" font-size="20.5" text-anchor="start" fill="#000" >a</text>
<text x="381" y="504" font-size="20.2" text-anchor="middle" fill="#333">&#948;<tspan font-size="10" letter-spacing="1.2" dx="1.0" dy="-9.6">202</tspan><tspan dx="0.3" dy="9.6">Hg (&#8240;)</tspan></text>
<text transform="translate(17.2,227.7) rotate(-90)" font-size="20.2" text-anchor="middle" fill="#333">&#916;<tspan font-size="10" letter-spacing="1.2" dx="1.0" dy="-9.6">199</tspan><tspan dx="0.3" dy="9.6">Hg (&#8240;)</tspan></text>
<circle cx="89.6" cy="316.6" r="3.75" class="g"/>
<text x="99.5" y="322.9" font-size="18.2" text-anchor="start" fill="#000" >Terrestial sediments</text>
<path d="M89.6 332.4L93.8 340.7L85.4 340.7Z" class="t"/>
<text x="99.5" y="343.0" font-size="18.2" text-anchor="start" fill="#000" >Marine/Pelagic sediments</text>
<circle cx="89.8" cy="356.7" r="2.9" class="s"/>
<text x="99.5" y="363.0" font-size="18.2" text-anchor="start" fill="#000" >Seawater</text>
<circle cx="89.6" cy="376.8" r="3.75" class="i"/>
<text x="99.5" y="383.1" font-size="18.2" text-anchor="start" fill="#000" >Igneous rocks</text>
<path d="M86.2 396.8H93.0M89.6 393.4V400.2" class="m"/>
<text x="99.5" y="403.1" font-size="18.2" text-anchor="start" fill="#000" >MORB</text>
<rect x="85.3" y="412.6" width="8.6" height="8.6" class="ab"/>
<text x="99.5" y="423.2" font-size="18.2" text-anchor="start" fill="#000" >Arc basalt</text>
<rect x="84.8" y="431.8" width="9.7" height="9.7" class="h"/>
<text x="99.5" y="443.2" font-size="18.2" text-anchor="start" fill="#000" >Tubuai HIMU</text>
<line x1="70.85" y1="521.0" x2="680.55" y2="521.0" stroke="#222" stroke-width="1.5"/>
<line x1="70.85" y1="966.5" x2="680.55" y2="966.5" stroke="#000" stroke-width="1.3"/>
<line x1="71.5" y1="521.0" x2="71.5" y2="967.15" stroke="#000" stroke-width="1.3"/>
<line x1="679.8" y1="520.25" x2="679.8" y2="967.15" stroke="#2a2a2a" stroke-width="1.5"/>
<line x1="66.0" y1="520.7" x2="77.2" y2="520.7" stroke="#000" stroke-width="1.4"/>
<text x="59.3" y="527.1" font-size="19.5" text-anchor="end" fill="#000" >0.6</text>
<line x1="66.0" y1="595.0" x2="77.2" y2="595.0" stroke="#000" stroke-width="1.4"/>
<text x="59.3" y="601.4" font-size="19.5" text-anchor="end" fill="#000" >0.4</text>
<line x1="66.0" y1="669.2" x2="77.2" y2="669.2" stroke="#000" stroke-width="1.4"/>
<text x="59.3" y="675.6" font-size="19.5" text-anchor="end" fill="#000" >0.2</text>
<line x1="66.0" y1="743.4" x2="77.2" y2="743.4" stroke="#000" stroke-width="1.4"/>
<text x="59.3" y="749.8" font-size="19.5" text-anchor="end" fill="#000" >0.0</text>
<line x1="66.0" y1="817.6" x2="77.2" y2="817.6" stroke="#000" stroke-width="1.4"/>
<text x="59.3" y="824.0" font-size="19.5" text-anchor="end" fill="#000" >-0.2</text>
<line x1="66.0" y1="891.8" x2="77.2" y2="891.8" stroke="#000" stroke-width="1.4"/>
<text x="59.3" y="898.2" font-size="19.5" text-anchor="end" fill="#000" >-0.4</text>
<line x1="66.0" y1="966.1" x2="77.2" y2="966.1" stroke="#000" stroke-width="1.4"/>
<text x="59.3" y="972.5" font-size="19.5" text-anchor="end" fill="#000" >-0.6</text>
<line x1="71.5" y1="557.8" x2="75.7" y2="557.8" stroke="#000" stroke-width="1.3"/>
<line x1="71.5" y1="632.1" x2="75.7" y2="632.1" stroke="#000" stroke-width="1.3"/>
<line x1="71.5" y1="706.3" x2="75.7" y2="706.3" stroke="#000" stroke-width="1.3"/>
<line x1="71.5" y1="780.5" x2="75.7" y2="780.5" stroke="#000" stroke-width="1.3"/>
<line x1="71.5" y1="854.7" x2="75.7" y2="854.7" stroke="#000" stroke-width="1.3"/>
<line x1="71.5" y1="929.0" x2="75.7" y2="929.0" stroke="#000" stroke-width="1.3"/>
<line x1="71.7" y1="961.0" x2="71.7" y2="971.6" stroke="#000" stroke-width="1.4"/>
<text x="73.7" y="993.9" font-size="19.5" text-anchor="middle" fill="#000" >-0.4</text>
<line x1="223.7" y1="961.0" x2="223.7" y2="971.6" stroke="#000" stroke-width="1.4"/>
<text x="225.7" y="993.9" font-size="19.5" text-anchor="middle" fill="#000" >-0.2</text>
<line x1="375.7" y1="961.0" x2="375.7" y2="971.6" stroke="#000" stroke-width="1.4"/>
<text x="376.7" y="993.9" font-size="19.5" text-anchor="middle" fill="#000" >0</text>
<line x1="527.7" y1="961.0" x2="527.7" y2="971.6" stroke="#000" stroke-width="1.4"/>
<text x="529.7" y="993.9" font-size="19.5" text-anchor="middle" fill="#000" >0.2</text>
<line x1="679.7" y1="961.0" x2="679.7" y2="971.6" stroke="#000" stroke-width="1.4"/>
<text x="657.6" y="993.9" font-size="19.5" text-anchor="start" fill="#000" >0.4</text>
<line x1="147.7" y1="962.0" x2="147.7" y2="966.5" stroke="#000" stroke-width="1.3"/>
<line x1="299.7" y1="962.0" x2="299.7" y2="966.5" stroke="#000" stroke-width="1.3"/>
<line x1="451.7" y1="962.0" x2="451.7" y2="966.5" stroke="#000" stroke-width="1.3"/>
<line x1="603.7" y1="962.0" x2="603.7" y2="966.5" stroke="#000" stroke-width="1.3"/>
<line x1="71.5" y1="743.5" x2="679.8" y2="743.5" stroke="#000" stroke-width="1.3" stroke-dasharray="4.6 3.53" stroke-dashoffset="4.5"/>
<circle cx="495.8" cy="620.4" r="3.75" class="g"/>
<circle cx="557.7" cy="632.6" r="3.75" class="g"/>
<circle cx="336.8" cy="736.6" r="3.75" class="g"/>
<circle cx="367.4" cy="720.8" r="3.75" class="g"/>
<circle cx="398.1" cy="730.4" r="3.75" class="g"/>
<circle cx="405.1" cy="727.8" r="3.75" class="g"/>
<circle cx="408.6" cy="730.4" r="3.75" class="g"/>
<circle cx="170.2" cy="795.6" r="3.75" class="g"/>
<circle cx="177.7" cy="803.1" r="3.75" class="g"/>
<circle cx="94.2" cy="806.6" r="3.75" class="g"/>
<circle cx="142.7" cy="806.6" r="3.75" class="g"/>
<circle cx="113.8" cy="816.6" r="3.75" class="g"/>
<circle cx="121.2" cy="813.1" r="3.75" class="g"/>
<circle cx="125.2" cy="816.3" r="3.75" class="g"/>
<circle cx="117.3" cy="818.9" r="3.75" class="g"/>
<circle cx="139.7" cy="817.7" r="3.75" class="g"/>
<circle cx="142.7" cy="814.5" r="3.75" class="g"/>
<circle cx="148.0" cy="825.0" r="3.75" class="g"/>
<circle cx="162.8" cy="810.7" r="3.75" class="g"/>
<circle cx="170.2" cy="810.7" r="3.75" class="g"/>
<circle cx="177.7" cy="811.9" r="3.75" class="g"/>
<circle cx="185.6" cy="810.1" r="3.75" class="g"/>
<circle cx="185.6" cy="814.5" r="3.75" class="g"/>
<circle cx="162.8" cy="818.0" r="3.75" class="g"/>
<circle cx="177.7" cy="818.0" r="3.75" class="g"/>
<circle cx="170.2" cy="821.9" r="3.75" class="g"/>
<circle cx="162.8" cy="825.0" r="3.75" class="g"/>
<circle cx="170.2" cy="827.7" r="3.75" class="g"/>
<circle cx="177.7" cy="827.7" r="3.75" class="g"/>
<circle cx="185.6" cy="828.5" r="3.75" class="g"/>
<circle cx="185.6" cy="822.4" r="3.75" class="g"/>
<circle cx="124.7" cy="828.5" r="3.75" class="g"/>
<circle cx="132.2" cy="828.5" r="3.75" class="g"/>
<circle cx="140.1" cy="828.2" r="3.75" class="g"/>
<circle cx="140.1" cy="832.0" r="3.75" class="g"/>
<circle cx="124.7" cy="836.4" r="3.75" class="g"/>
<circle cx="148.0" cy="836.4" r="3.75" class="g"/>
<circle cx="155.5" cy="836.4" r="3.75" class="g"/>
<circle cx="162.8" cy="836.4" r="3.75" class="g"/>
<circle cx="170.2" cy="836.4" r="3.75" class="g"/>
<circle cx="170.2" cy="832.0" r="3.75" class="g"/>
<circle cx="177.7" cy="839.9" r="3.75" class="g"/>
<circle cx="170.2" cy="843.4" r="3.75" class="g"/>
<circle cx="110.3" cy="832.9" r="3.75" class="g"/>
<circle cx="101.9" cy="836.4" r="3.75" class="g"/>
<circle cx="101.9" cy="840.8" r="3.75" class="g"/>
<circle cx="110.3" cy="839.9" r="3.75" class="g"/>
<circle cx="140.1" cy="839.9" r="3.75" class="g"/>
<circle cx="94.5" cy="844.7" r="3.75" class="g"/>
<circle cx="132.2" cy="842.6" r="3.75" class="g"/>
<circle cx="71.8" cy="836.4" r="3.75" class="g"/>
<circle cx="86.6" cy="851.3" r="3.75" class="g"/>
<circle cx="94.5" cy="851.3" r="3.75" class="g"/>
<circle cx="94.5" cy="855.7" r="3.75" class="g"/>
<circle cx="101.9" cy="847.8" r="3.75" class="g"/>
<circle cx="109.4" cy="847.8" r="3.75" class="g"/>
<circle cx="117.3" cy="847.8" r="3.75" class="g"/>
<circle cx="124.7" cy="847.8" r="3.75" class="g"/>
<circle cx="132.2" cy="847.8" r="3.75" class="g"/>
<circle cx="140.1" cy="847.8" r="3.75" class="g"/>
<circle cx="148.0" cy="847.8" r="3.75" class="g"/>
<circle cx="155.5" cy="847.8" r="3.75" class="g"/>
<circle cx="162.8" cy="851.3" r="3.75" class="g"/>
<circle cx="170.2" cy="851.3" r="3.75" class="g"/>
<circle cx="177.7" cy="851.3" r="3.75" class="g"/>
<circle cx="185.6" cy="844.3" r="3.75" class="g"/>
<circle cx="185.6" cy="847.8" r="3.75" class="g"/>
<circle cx="124.7" cy="851.3" r="3.75" class="g"/>
<circle cx="132.2" cy="854.8" r="3.75" class="g"/>
<circle cx="148.0" cy="854.8" r="3.75" class="g"/>
<circle cx="155.5" cy="854.8" r="3.75" class="g"/>
<circle cx="162.8" cy="855.7" r="3.75" class="g"/>
<circle cx="170.2" cy="858.3" r="3.75" class="g"/>
<circle cx="94.5" cy="859.2" r="3.75" class="g"/>
<circle cx="94.5" cy="862.7" r="3.75" class="g"/>
<circle cx="109.4" cy="859.2" r="3.75" class="g"/>
<circle cx="117.3" cy="859.2" r="3.75" class="g"/>
<circle cx="124.7" cy="861.8" r="3.75" class="g"/>
<circle cx="132.2" cy="861.8" r="3.75" class="g"/>
<circle cx="140.1" cy="861.8" r="3.75" class="g"/>
<circle cx="109.4" cy="865.3" r="3.75" class="g"/>
<circle cx="101.9" cy="866.2" r="3.75" class="g"/>
<circle cx="117.3" cy="866.2" r="3.75" class="g"/>
<circle cx="132.2" cy="866.2" r="3.75" class="g"/>
<circle cx="155.5" cy="861.8" r="3.75" class="g"/>
<circle cx="162.8" cy="866.2" r="3.75" class="g"/>
<circle cx="78.8" cy="869.7" r="3.75" class="g"/>
<circle cx="86.6" cy="869.7" r="3.75" class="g"/>
<circle cx="94.5" cy="869.7" r="3.75" class="g"/>
<circle cx="101.9" cy="870.6" r="3.75" class="g"/>
<circle cx="94.5" cy="875.8" r="3.75" class="g"/>
<circle cx="109.4" cy="875.8" r="3.75" class="g"/>
<circle cx="117.3" cy="875.8" r="3.75" class="g"/>
<circle cx="125.2" cy="875.8" r="3.75" class="g"/>
<circle cx="140.1" cy="873.7" r="3.75" class="g"/>
<circle cx="155.5" cy="876.7" r="3.75" class="g"/>
<circle cx="162.8" cy="876.7" r="3.75" class="g"/>
<circle cx="78.8" cy="876.7" r="3.75" class="g"/>
<circle cx="86.6" cy="876.7" r="3.75" class="g"/>
<circle cx="71.8" cy="878.5" r="3.75" class="g"/>
<circle cx="71.8" cy="888.4" r="3.75" class="g"/>
<circle cx="78.8" cy="887.5" r="3.75" class="g"/>
<circle cx="78.8" cy="891.9" r="3.75" class="g"/>
<circle cx="86.6" cy="891.9" r="3.75" class="g"/>
<circle cx="94.5" cy="891.9" r="3.75" class="g"/>
<circle cx="94.5" cy="884.9" r="3.75" class="g"/>
<circle cx="101.9" cy="881.4" r="3.75" class="g"/>
<circle cx="109.4" cy="881.4" r="3.75" class="g"/>
<circle cx="109.4" cy="888.4" r="3.75" class="g"/>
<circle cx="117.3" cy="884.9" r="3.75" class="g"/>
<circle cx="124.7" cy="881.4" r="3.75" class="g"/>
<circle cx="109.4" cy="896.3" r="3.75" class="g"/>
<circle cx="124.7" cy="902.9" r="3.75" class="g"/>
<circle cx="177.7" cy="895.9" r="3.75" class="g"/>
<circle cx="155.0" cy="910.6" r="3.75" class="g"/>
<circle cx="78.8" cy="913.8" r="3.75" class="g"/>
<circle cx="78.8" cy="921.7" r="3.75" class="g"/>
<circle cx="71.8" cy="902.4" r="3.75" class="g"/>
<circle cx="78.8" cy="896.3" r="3.75" class="g"/>
<circle cx="94.5" cy="872.6" r="3.75" class="g"/>
<circle cx="208.0" cy="763.9" r="3.75" class="g"/>
<circle cx="261.5" cy="765.3" r="3.75" class="g"/>
<circle cx="272.8" cy="767.9" r="3.75" class="g"/>
<circle cx="261.5" cy="773.1" r="3.75" class="g"/>
<circle cx="230.8" cy="788.0" r="3.75" class="g"/>
<circle cx="238.7" cy="788.0" r="3.75" class="g"/>
<circle cx="246.2" cy="788.0" r="3.75" class="g"/>
<circle cx="230.8" cy="791.9" r="3.75" class="g"/>
<circle cx="238.7" cy="794.2" r="3.75" class="g"/>
<circle cx="238.7" cy="797.7" r="3.75" class="g"/>
<circle cx="253.6" cy="799.4" r="3.75" class="g"/>
<circle cx="208.0" cy="799.4" r="3.75" class="g"/>
<circle cx="215.9" cy="799.4" r="3.75" class="g"/>
<circle cx="223.8" cy="799.4" r="3.75" class="g"/>
<circle cx="230.8" cy="799.4" r="3.75" class="g"/>
<circle cx="238.7" cy="802.0" r="3.75" class="g"/>
<circle cx="246.6" cy="802.9" r="3.75" class="g"/>
<circle cx="208.0" cy="802.9" r="3.75" class="g"/>
<circle cx="201.0" cy="806.4" r="3.75" class="g"/>
<circle cx="208.0" cy="806.4" r="3.75" class="g"/>
<circle cx="215.9" cy="806.4" r="3.75" class="g"/>
<circle cx="223.8" cy="806.4" r="3.75" class="g"/>
<circle cx="230.8" cy="802.9" r="3.75" class="g"/>
<circle cx="193.1" cy="813.4" r="3.75" class="g"/>
<circle cx="201.0" cy="813.4" r="3.75" class="g"/>
<circle cx="208.0" cy="813.4" r="3.75" class="g"/>
<circle cx="215.9" cy="810.8" r="3.75" class="g"/>
<circle cx="223.8" cy="813.4" r="3.75" class="g"/>
<circle cx="193.1" cy="817.8" r="3.75" class="g"/>
<circle cx="201.0" cy="817.8" r="3.75" class="g"/>
<circle cx="208.0" cy="817.8" r="3.75" class="g"/>
<circle cx="215.9" cy="817.8" r="3.75" class="g"/>
<circle cx="193.1" cy="824.8" r="3.75" class="g"/>
<circle cx="201.0" cy="822.2" r="3.75" class="g"/>
<circle cx="208.0" cy="824.8" r="3.75" class="g"/>
<circle cx="215.9" cy="824.8" r="3.75" class="g"/>
<circle cx="193.1" cy="831.8" r="3.75" class="g"/>
<circle cx="201.0" cy="828.3" r="3.75" class="g"/>
<circle cx="208.0" cy="831.8" r="3.75" class="g"/>
<circle cx="215.9" cy="831.8" r="3.75" class="g"/>
<circle cx="180.0" cy="802.9" r="3.75" class="g"/>
<circle cx="180.0" cy="817.8" r="3.75" class="g"/>
<circle cx="180.0" cy="830.1" r="3.75" class="g"/>
<circle cx="198.4" cy="841.5" r="3.75" class="g"/>
<circle cx="180.0" cy="840.6" r="3.75" class="g"/>
<circle cx="261.5" cy="791.5" r="3.75" class="g"/>
<circle cx="268.5" cy="794.2" r="3.75" class="g"/>
<circle cx="274.6" cy="788.9" r="3.75" class="g"/>
<circle cx="228.7" cy="747.4" r="3.75" class="g"/>
<circle cx="375.6" cy="765.9" r="3.75" class="g"/>
<circle cx="413.6" cy="777.1" r="3.75" class="g"/>
<circle cx="368.0" cy="747.0" r="3.75" class="g"/>
<circle cx="397.7" cy="708.5" r="3.75" class="g"/>
<circle cx="466.6" cy="777.1" r="3.75" class="g"/>
<circle cx="497.5" cy="780.8" r="3.75" class="g"/>
<circle cx="489.9" cy="788.2" r="3.75" class="g"/>
<circle cx="382.9" cy="861.7" r="3.75" class="g"/>
<path d="M451.9 624.5L455.9 632.5L447.9 632.5Z" class="t"/>
<path d="M649.5 573.1L653.5 581.1L645.5 581.1Z" class="t"/>
<path d="M672.2 583.7L676.2 591.6L668.2 591.6Z" class="t"/>
<path d="M664.4 595.3L668.4 603.3L660.4 603.3Z" class="t"/>
<path d="M611.0 613.6L615.0 621.5L607.0 621.5Z" class="t"/>
<path d="M596.2 628.7L600.2 636.7L592.2 636.7Z" class="t"/>
<path d="M565.9 661.5L569.9 669.4L561.9 669.4Z" class="t"/>
<path d="M497.1 632.2L501.1 640.2L493.1 640.2Z" class="t"/>
<path d="M474.7 636.1L478.7 644.0L470.7 644.0Z" class="t"/>
<path d="M489.7 639.2L493.7 647.2L485.7 647.2Z" class="t"/>
<path d="M436.6 643.1L440.6 651.0L432.6 651.0Z" class="t"/>
<path d="M421.8 643.6L425.8 651.5L417.8 651.5Z" class="t"/>
<path d="M428.8 647.1L432.8 655.0L424.8 655.0Z" class="t"/>
<path d="M444.5 655.0L448.5 662.9L440.5 662.9Z" class="t"/>
<path d="M451.5 654.1L455.5 662.1L447.5 662.1Z" class="t"/>
<path d="M459.4 650.6L463.4 658.6L455.4 658.6Z" class="t"/>
<path d="M459.4 655.0L463.4 662.9L455.4 662.9Z" class="t"/>
<path d="M482.2 655.8L486.2 663.8L478.2 663.8Z" class="t"/>
<path d="M482.2 660.2L486.2 668.2L478.2 668.2Z" class="t"/>
<path d="M422.6 662.0L426.6 669.9L418.6 669.9Z" class="t"/>
<path d="M428.8 662.0L432.8 669.9L424.8 669.9Z" class="t"/>
<path d="M436.6 665.5L440.6 673.4L432.6 673.4Z" class="t"/>
<path d="M444.5 662.0L448.5 669.9L440.5 669.9Z" class="t"/>
<path d="M452.4 661.1L456.4 669.1L448.4 669.1Z" class="t"/>
<path d="M459.4 665.5L463.4 673.4L455.4 673.4Z" class="t"/>
<path d="M474.7 665.5L478.7 673.4L470.7 673.4Z" class="t"/>
<path d="M421.8 672.5L425.8 680.4L417.8 680.4Z" class="t"/>
<path d="M436.6 675.1L440.6 683.1L432.6 683.1Z" class="t"/>
<path d="M444.5 676.0L448.5 684.0L440.5 684.0Z" class="t"/>
<path d="M451.5 674.2L455.5 682.2L447.5 682.2Z" class="t"/>
<path d="M459.4 672.5L463.4 680.4L455.4 680.4Z" class="t"/>
<path d="M429.6 678.6L433.6 686.6L425.6 686.6Z" class="t"/>
<path d="M437.5 683.0L441.5 691.0L433.5 691.0Z" class="t"/>
<path d="M444.5 682.1L448.5 690.1L440.5 690.1Z" class="t"/>
<path d="M452.4 687.4L456.4 695.3L448.4 695.3Z" class="t"/>
<path d="M459.4 687.4L463.4 695.3L455.4 695.3Z" class="t"/>
<path d="M423.5 686.5L427.5 694.5L419.5 694.5Z" class="t"/>
<path d="M398.6 639.9L402.6 647.8L394.6 647.8Z" class="t"/>
<path d="M390.7 661.6L394.7 669.6L386.7 669.6Z" class="t"/>
<path d="M406.0 661.6L410.0 669.6L402.0 669.6Z" class="t"/>
<path d="M413.5 658.1L417.5 666.1L409.5 666.1Z" class="t"/>
<path d="M345.5 669.1L349.5 677.1L341.5 677.1Z" class="t"/>
<path d="M375.7 669.1L379.7 677.1L371.7 677.1Z" class="t"/>
<path d="M398.6 669.1L402.6 677.1L394.6 677.1Z" class="t"/>
<path d="M412.1 680.8L416.1 688.8L408.1 688.8Z" class="t"/>
<path d="M398.6 687.8L402.6 695.8L394.6 695.8Z" class="t"/>
<path d="M406.0 691.3L410.0 699.3L402.0 699.3Z" class="t"/>
<path d="M383.7 698.3L387.7 706.3L379.7 706.3Z" class="t"/>
<path d="M391.1 698.3L395.1 706.3L387.1 706.3Z" class="t"/>
<path d="M368.0 705.3L372.0 713.3L364.0 713.3Z" class="t"/>
<path d="M375.7 708.8L379.7 716.8L371.7 716.8Z" class="t"/>
<path d="M419.1 676.4L423.1 684.4L415.1 684.4Z" class="t"/>
<circle cx="504.5" cy="606.4" r="2.9" class="s"/>
<circle cx="504.5" cy="635.6" r="2.9" class="s"/>
<circle cx="527.8" cy="639.9" r="2.9" class="s"/>
<circle cx="527.8" cy="662.0" r="2.9" class="s"/>
<circle cx="550.2" cy="665.5" r="2.9" class="s"/>
<circle cx="557.7" cy="676.5" r="2.9" class="s"/>
<circle cx="596.2" cy="695.2" r="2.9" class="s"/>
<circle cx="664.2" cy="680.3" r="2.9" class="s"/>
<circle cx="520.2" cy="657.6" r="2.9" class="s"/>
<circle cx="512.5" cy="672.7" r="2.9" class="s"/>
<circle cx="519.9" cy="676.6" r="2.9" class="s"/>
<circle cx="519.9" cy="684.5" r="2.9" class="s"/>
<circle cx="519.9" cy="698.5" r="2.9" class="s"/>
<circle cx="368.0" cy="665.7" r="2.9" class="s"/>
<circle cx="147.4" cy="807.0" r="2.9" class="s"/>
<circle cx="375.6" cy="814.5" r="2.9" class="s"/>
<circle cx="481.9" cy="728.7" r="2.9" class="s"/>
<path d="M530.8 671.8L534.6 675.6L530.8 679.4L527.0 675.6Z" class="id"/>
<path d="M542.1 696.8L545.9 700.6L542.1 704.4L538.3 700.6Z" class="id"/>
<path d="M467.3 665.8L471.1 669.6L467.3 673.4L463.5 669.6Z" class="id"/>
<path d="M459.4 672.8L463.2 676.6L459.4 680.4L455.6 676.6Z" class="id"/>
<path d="M461.2 678.9L465.0 682.7L461.2 686.5L457.4 682.7Z" class="id"/>
<path d="M476.9 671.9L480.7 675.7L476.9 679.5L473.1 675.7Z" class="id"/>
<path d="M485.7 668.4L489.5 672.2L485.7 676.0L481.9 672.2Z" class="id"/>
<path d="M480.4 676.3L484.2 680.1L480.4 683.9L476.6 680.1Z" class="id"/>
<path d="M488.3 677.1L492.1 680.9L488.3 684.7L484.5 680.9Z" class="id"/>
<path d="M476.1 679.8L479.9 683.6L476.1 687.4L472.3 683.6Z" class="id"/>
<path d="M483.1 681.5L486.9 685.3L483.1 689.1L479.3 685.3Z" class="id"/>
<path d="M495.3 667.5L499.1 671.3L495.3 675.1L491.5 671.3Z" class="id"/>
<path d="M507.2 664.0L511.0 667.8L507.2 671.6L503.4 667.8Z" class="id"/>
<path d="M498.0 688.9L501.8 692.7L498.0 696.5L494.2 692.7Z" class="id"/>
<path d="M485.7 692.0L489.5 695.8L485.7 699.6L481.9 695.8Z" class="id"/>
<path d="M430.5 681.5L434.3 685.3L430.5 689.1L426.7 685.3Z" class="id"/>
<path d="M436.6 686.8L440.4 690.6L436.6 694.4L432.8 690.6Z" class="id"/>
<path d="M425.3 690.3L429.1 694.1L425.3 697.9L421.5 694.1Z" class="id"/>
<path d="M434.0 692.0L437.8 695.8L434.0 699.6L430.2 695.8Z" class="id"/>
<path d="M467.3 692.0L471.1 695.8L467.3 699.6L463.5 695.8Z" class="id"/>
<path d="M470.8 687.7L474.6 691.5L470.8 695.3L467.0 691.5Z" class="id"/>
<path d="M403.4 674.7L407.2 678.5L403.4 682.3L399.6 678.5Z" class="id"/>
<path d="M416.5 682.8L420.3 686.6L416.5 690.4L412.7 686.6Z" class="id"/>
<path d="M333.3 701.2L337.1 705.0L333.3 708.8L329.5 705.0Z" class="id"/>
<path d="M342.9 704.7L346.7 708.5L342.9 712.3L339.1 708.5Z" class="id"/>
<path d="M329.8 710.0L333.6 713.8L329.8 717.6L326.0 713.8Z" class="id"/>
<path d="M349.9 710.0L353.7 713.8L349.9 717.6L346.1 713.8Z" class="id"/>
<path d="M360.4 705.6L364.2 709.4L360.4 713.2L356.6 709.4Z" class="id"/>
<path d="M360.4 710.9L364.2 714.7L360.4 718.5L356.6 714.7Z" class="id"/>
<path d="M346.4 717.9L350.2 721.7L346.4 725.5L342.6 721.7Z" class="id"/>
<path d="M323.6 718.4L327.4 722.2L323.6 726.0L319.8 722.2Z" class="id"/>
<path d="M318.4 723.1L322.2 726.9L318.4 730.7L314.6 726.9Z" class="id"/>
<path d="M335.0 725.8L338.8 729.6L335.0 733.4L331.2 729.6Z" class="id"/>
<path d="M328.0 727.5L331.8 731.3L328.0 735.1L324.2 731.3Z" class="id"/>
<path d="M340.3 731.0L344.1 734.8L340.3 738.6L336.5 734.8Z" class="id"/>
<path d="M303.5 731.0L307.3 734.8L303.5 738.6L299.7 734.8Z" class="id"/>
<path d="M314.9 728.4L318.7 732.2L314.9 736.0L311.1 732.2Z" class="id"/>
<path d="M352.6 732.8L356.4 736.6L352.6 740.4L348.8 736.6Z" class="id"/>
<path d="M368.3 725.8L372.1 729.6L368.3 733.4L364.5 729.6Z" class="id"/>
<path d="M382.3 717.0L386.1 720.8L382.3 724.6L378.5 720.8Z" class="id"/>
<path d="M391.1 709.1L394.9 712.9L391.1 716.7L387.3 712.9Z" class="id"/>
<path d="M392.8 714.4L396.6 718.2L392.8 722.0L389.0 718.2Z" class="id"/>
<path d="M401.6 695.1L405.4 698.9L401.6 702.7L397.8 698.9Z" class="id"/>
<path d="M405.1 698.6L408.9 702.4L405.1 706.2L401.3 702.4Z" class="id"/>
<path d="M408.6 703.9L412.4 707.7L408.6 711.5L404.8 707.7Z" class="id"/>
<path d="M412.1 708.2L415.9 712.0L412.1 715.8L408.3 712.0Z" class="id"/>
<path d="M414.7 702.1L418.5 705.9L414.7 709.7L410.9 705.9Z" class="id"/>
<path d="M403.4 709.1L407.2 712.9L403.4 716.7L399.6 712.9Z" class="id"/>
<path d="M398.1 703.9L401.9 707.7L398.1 711.5L394.3 707.7Z" class="id"/>
<path d="M387.6 704.7L391.4 708.5L387.6 712.3L383.8 708.5Z" class="id"/>
<path d="M384.1 724.9L387.9 728.7L384.1 732.5L380.3 728.7Z" class="id"/>
<path d="M377.1 724.0L380.9 727.8L377.1 731.6L373.3 727.8Z" class="id"/>
<path d="M391.1 729.3L394.9 733.1L391.1 736.9L387.3 733.1Z" class="id"/>
<path d="M398.1 733.6L401.9 737.4L398.1 741.2L394.3 737.4Z" class="id"/>
<path d="M405.1 727.5L408.9 731.3L405.1 735.1L401.3 731.3Z" class="id"/>
<path d="M412.1 724.0L415.9 727.8L412.1 731.6L408.3 727.8Z" class="id"/>
<path d="M414.7 715.3L418.5 719.1L414.7 722.9L410.9 719.1Z" class="id"/>
<path d="M405.1 746.8L408.9 750.6L405.1 754.4L401.3 750.6Z" class="id"/>
<path d="M398.1 739.8L401.9 743.6L398.1 747.4L394.3 743.6Z" class="id"/>
<path d="M377.1 732.8L380.9 736.6L377.1 740.4L373.3 736.6Z" class="id"/>
<path d="M382.3 746.8L386.1 750.6L382.3 754.4L378.5 750.6Z" class="id"/>
<path d="M392.8 753.8L396.6 757.6L392.8 761.4L389.0 757.6Z" class="id"/>
<path d="M326.3 736.3L330.1 740.1L326.3 743.9L322.5 740.1Z" class="id"/>
<path d="M331.5 739.8L335.3 743.6L331.5 747.4L327.7 743.6Z" class="id"/>
<path d="M343.8 741.5L347.6 745.3L343.8 749.1L340.0 745.3Z" class="id"/>
<path d="M317.5 733.6L321.3 737.4L317.5 741.2L313.7 737.4Z" class="id"/>
<path d="M262.3 764.6L266.1 768.4L262.3 772.2L258.5 768.4Z" class="id"/>
<path d="M267.2 772.3L271.0 776.1L267.2 779.9L263.4 776.1Z" class="id"/>
<path d="M246.6 775.8L250.4 779.6L246.6 783.4L242.8 779.6Z" class="id"/>
<path d="M269.3 780.7L273.1 784.5L269.3 788.3L265.5 784.5Z" class="id"/>
<path d="M262.3 783.4L266.1 787.2L262.3 791.0L258.5 787.2Z" class="id"/>
<path d="M281.6 782.5L285.4 786.3L281.6 790.1L277.8 786.3Z" class="id"/>
<path d="M283.4 758.3L287.2 762.1L283.4 765.9L279.6 762.1Z" class="id"/>
<path d="M227.6 804.4L231.4 808.2L227.6 812.0L223.8 808.2Z" class="id"/>
<path d="M239.9 803.1L243.7 806.9L239.9 810.7L236.1 806.9Z" class="id"/>
<path d="M248.0 825.4L251.8 829.2L248.0 833.0L244.2 829.2Z" class="id"/>
<path d="M204.2 835.9L208.0 839.7L204.2 843.5L200.4 839.7Z" class="id"/>
<path d="M425.0 753.2L428.8 757.0L425.0 760.8L421.2 757.0Z" class="id"/>
<path d="M390.8 762.1L394.6 765.9L390.8 769.7L387.0 765.9Z" class="id"/>
<path d="M388.2 776.8L392.0 780.6L388.2 784.4L384.4 780.6Z" class="id"/>
<path d="M351.4 766.9L355.2 770.7L351.4 774.5L347.6 770.7Z" class="id"/>
<path d="M347.9 773.9L351.7 777.7L347.9 781.5L344.1 777.7Z" class="id"/>
<path d="M344.4 780.0L348.2 783.8L344.4 787.6L340.6 783.8Z" class="id"/>
<path d="M367.2 761.6L371.0 765.4L367.2 769.2L363.4 765.4Z" class="id"/>
<path d="M370.7 753.7L374.5 757.5L370.7 761.3L366.9 757.5Z" class="id"/>
<path d="M392.6 738.8L396.4 742.6L392.6 746.4L388.8 742.6Z" class="id"/>
<path d="M409.2 738.8L413.0 742.6L409.2 746.4L405.4 742.6Z" class="id"/>
<path d="M479.8 699.8L483.6 703.6L479.8 707.4L476.0 703.6Z" class="id"/>
<path d="M475.4 702.1L479.2 705.9L475.4 709.7L471.6 705.9Z" class="id"/>
<path d="M462.3 702.5L466.1 706.3L462.3 710.1L458.5 706.3Z" class="id"/>
<path d="M463.1 708.6L466.9 712.4L463.1 716.2L459.3 712.4Z" class="id"/>
<path d="M456.1 701.6L459.9 705.4L456.1 709.2L452.3 705.4Z" class="id"/>
<path d="M452.6 707.7L456.4 711.5L452.6 715.3L448.8 711.5Z" class="id"/>
<path d="M466.6 698.6L470.4 702.4L466.6 706.2L462.8 702.4Z" class="id"/>
<path d="M450.0 722.1L453.8 725.9L450.0 729.7L446.2 725.9Z" class="id"/>
<path d="M467.5 755.4L471.3 759.2L467.5 763.0L463.7 759.2Z" class="id"/>
<path d="M420.7 690.7L424.5 694.5L420.7 698.3L416.9 694.5Z" class="id"/>
<path d="M436.5 696.6L440.3 700.4L436.5 704.2L432.7 700.4Z" class="id"/>
<path d="M440.4 693.3L444.2 697.1L440.4 700.9L436.6 697.1Z" class="id"/>
<path d="M441.8 700.5L445.6 704.3L441.8 708.1L438.0 704.3Z" class="id"/>
<path d="M401.7 703.1L405.5 706.9L401.7 710.7L397.9 706.9Z" class="id"/>
<path d="M387.9 711.0L391.7 714.8L387.9 718.6L384.1 714.8Z" class="id"/>
<path d="M395.8 708.4L399.6 712.2L395.8 716.0L392.0 712.2Z" class="id"/>
<path d="M418.8 707.7L422.6 711.5L418.8 715.3L415.0 711.5Z" class="id"/>
<path d="M420.7 699.8L424.5 703.6L420.7 707.4L416.9 703.6Z" class="id"/>
<path d="M426.6 703.8L430.4 707.6L426.6 711.4L422.8 707.6Z" class="id"/>
<path d="M424.7 699.2L428.5 703.0L424.7 706.8L420.9 703.0Z" class="id"/>
<path d="M430.6 700.5L434.4 704.3L430.6 708.1L426.8 704.3Z" class="id"/>
<path d="M406.3 713.6L410.1 717.4L406.3 721.2L402.5 717.4Z" class="id"/>
<path d="M402.3 718.2L406.1 722.0L402.3 725.8L398.5 722.0Z" class="id"/>
<path d="M408.2 718.2L412.0 722.0L408.2 725.8L404.4 722.0Z" class="id"/>
<path d="M397.7 721.5L401.5 725.3L397.7 729.1L393.9 725.3Z" class="id"/>
<path d="M393.1 719.6L396.9 723.4L393.1 727.2L389.3 723.4Z" class="id"/>
<path d="M385.3 730.1L389.1 733.9L385.3 737.7L381.5 733.9Z" class="id"/>
<path d="M447.0 715.6L450.8 719.4L447.0 723.2L443.2 719.4Z" class="id"/>
<path d="M461.5 698.5L465.3 702.3L461.5 706.1L457.7 702.3Z" class="id"/>
<path d="M458.8 705.1L462.6 708.9L458.8 712.7L455.0 708.9Z" class="id"/>
<path d="M449.0 697.2L452.8 701.0L449.0 704.8L445.2 701.0Z" class="id"/>
<path d="M445.7 703.1L449.5 706.9L445.7 710.7L441.9 706.9Z" class="id"/>
<path d="M360.9 719.2L364.7 723.0L360.9 726.8L357.1 723.0Z" class="id"/>
<path d="M354.3 721.2L358.1 725.0L354.3 728.8L350.5 725.0Z" class="id"/>
<path d="M349.7 729.7L353.5 733.5L349.7 737.3L345.9 733.5Z" class="id"/>
<path d="M356.9 731.0L360.7 734.8L356.9 738.6L353.1 734.8Z" class="id"/>
<path d="M365.5 731.0L369.3 734.8L365.5 738.6L361.7 734.8Z" class="id"/>
<path d="M369.4 729.7L373.2 733.5L369.4 737.3L365.6 733.5Z" class="id"/>
<path d="M374.0 726.4L377.8 730.2L374.0 734.0L370.2 730.2Z" class="id"/>
<path d="M401.6 725.8L405.4 729.6L401.6 733.4L397.8 729.6Z" class="id"/>
<path d="M405.5 721.2L409.3 725.0L405.5 728.8L401.7 725.0Z" class="id"/>
<path d="M408.8 729.0L412.6 732.8L408.8 736.6L405.0 732.8Z" class="id"/>
<path d="M402.3 733.0L406.1 736.8L402.3 740.6L398.5 736.8Z" class="id"/>
<path d="M393.1 733.0L396.9 736.8L393.1 740.6L389.3 736.8Z" class="id"/>
<path d="M415.4 730.4L419.2 734.2L415.4 738.0L411.6 734.2Z" class="id"/>
<path d="M331.3 735.6L335.1 739.4L331.3 743.2L327.5 739.4Z" class="id"/>
<path d="M335.3 740.2L339.1 744.0L335.3 747.8L331.5 744.0Z" class="id"/>
<path d="M339.2 735.6L343.0 739.4L339.2 743.2L335.4 739.4Z" class="id"/>
<path d="M330.0 743.5L333.8 747.3L330.0 751.1L326.2 747.3Z" class="id"/>
<path d="M372.0 739.6L375.8 743.4L372.0 747.2L368.2 743.4Z" class="id"/>
<path d="M364.2 741.5L368.0 745.3L364.2 749.1L360.4 745.3Z" class="id"/>
<path d="M425.4 676.6H432.2M428.8 673.2V680.0" class="m"/>
<path d="M448.5 684.5H455.3M451.9 681.1V687.9" class="m"/>
<path d="M463.5 676.9H470.3M466.9 673.5V680.3" class="m"/>
<path d="M441.1 695.5H447.9M444.5 692.1V698.9" class="m"/>
<path d="M425.4 698.5H432.2M428.8 695.1V701.9" class="m"/>
<path d="M499.8 662.6H506.6M503.2 659.2V666.0" class="m"/>
<path d="M372.3 691.9H379.1M375.7 688.5V695.3" class="m"/>
<path d="M379.8 710.3H386.6M383.2 706.9V713.7" class="m"/>
<path d="M364.9 713.8H371.7M368.3 710.4V717.2" class="m"/>
<path d="M387.3 725.2H394.1M390.7 721.8V728.6" class="m"/>
<path d="M341.8 729.2H348.6M345.2 725.8V732.6" class="m"/>
<path d="M356.5 739.7H363.3M359.9 736.3V743.1" class="m"/>
<path d="M402.6 740.1H409.4M406.0 736.7V743.5" class="m"/>
<path d="M441.0 721.4H447.8M444.4 718.0V724.8" class="m"/>
<rect x="523.4" y="613.2" width="8.8" height="8.8" class="ab"/>
<rect x="545.8" y="653.4" width="8.8" height="8.8" class="ab"/>
<rect x="477.8" y="646.8" width="8.8" height="8.8" class="ab"/>
<rect x="485.3" y="650.3" width="8.8" height="8.8" class="ab"/>
<rect x="515.5" y="665.2" width="8.8" height="8.8" class="ab"/>
<rect x="508.1" y="676.0" width="8.8" height="8.8" class="ab"/>
<rect x="462.5" y="683.0" width="8.8" height="8.8" class="ab"/>
<rect x="370.9" y="740.1" width="8.8" height="8.8" class="ab"/>
<rect x="447.4" y="743.0" width="8.8" height="8.8" class="ab"/>
<rect x="505.8" y="651.7" width="13.0" height="13.0" class="h"/>
<path d="M352.6 722.6L356.2 729.0L348.9 729.0Z" class="cf"/>
<path d="M345.2 737.4L348.9 743.9L341.5 743.9Z" class="cf"/>
<path d="M352.9 737.4L356.6 743.9L349.2 743.9Z" class="cf"/>
<path d="M360.4 740.1L364.1 746.6L356.8 746.6Z" class="cf"/>
<path d="M375.7 733.9L379.4 740.4L372.0 740.4Z" class="cf"/>
<path d="M337.7 752.3L341.3 758.8L334.0 758.8Z" class="cf"/>
<path d="M368.3 744.5L372.0 750.9L364.6 750.9Z" class="cf"/>
<path d="M368.3 752.3L372.0 758.8L364.6 758.8Z" class="cf"/>
<path d="M398.7 755.4L402.4 761.9L395.0 761.9Z" class="cf"/>
<circle cx="375.7" cy="721.7" r="3.6" class="mg"/>
<circle cx="399.0" cy="717.6" r="3.6" class="mg"/>
<circle cx="330.1" cy="751.5" r="3.6" class="mg"/>
<circle cx="360.1" cy="772.4" r="3.6" class="mg"/>
<circle cx="436.5" cy="713.9" r="3.6" class="mg"/>
<circle cx="419.4" cy="721.4" r="3.6" class="mg"/>
<path d="M360.4 727.6L365.0 732.2L360.4 736.8L355.8 732.2Z" class="af"/>
<path d="M413.5 720.6L418.1 725.2L413.5 729.8L408.9 725.2Z" class="af"/>
<path d="M413.5 750.4L418.1 755.0L413.5 759.6L408.9 755.0Z" class="af"/>
<path d="M383.4 768.7L388.0 773.3L383.4 777.9L378.8 773.3Z" class="af"/>
<path d="M437.8 720.1L442.4 724.7L437.8 729.3L433.2 724.7Z" class="af"/>
<path d="M368.3 725.4L372.5 729.6L368.3 733.8L364.1 729.6Z" class="ic"/>
<path d="M383.2 717.5L387.4 721.7L383.2 725.9L379.0 721.7Z" class="ic"/>
<path d="M383.2 735.9L387.4 740.1L383.2 744.3L379.0 740.1Z" class="ic"/>
<path d="M383.2 746.4L387.4 750.6L383.2 754.8L379.0 750.6Z" class="ic"/>
<path d="M399.0 722.7L403.2 726.9L399.0 731.1L394.8 726.9Z" class="ic"/>
<path d="M367.4 753.4L371.6 757.6L367.4 761.8L363.2 757.6Z" class="ic"/>
<path d="M368.0 748.1L372.2 752.3L368.0 756.5L363.8 752.3Z" class="ic"/>
<path d="M390.5 728.4L394.7 732.6L390.5 736.8L386.3 732.6Z" class="ic"/>
<path d="M421.4 732.3L425.6 736.5L421.4 740.7L417.2 736.5Z" class="ic"/>
<rect x="277.1" y="787.7" width="14.6" height="14.6" class="sm"/><path d="M277.7 788.3L291.1 801.7M291.1 788.3L277.7 801.7" class="smx"/>
<circle cx="318.0" cy="745.2" r="8.7" class="c"/>
<circle cx="308.6" cy="749.9" r="8.7" class="c"/>
<circle cx="297.6" cy="755.7" r="8.7" class="c"/>
<circle cx="313.3" cy="761.5" r="8.7" class="c"/>
<circle cx="282.9" cy="773.2" r="8.7" class="c"/>
<circle cx="291.1" cy="773.2" r="8.7" class="c"/>
<circle cx="294.6" cy="782.6" r="8.7" class="c"/>
<circle cx="309.8" cy="772.0" r="8.7" class="c"/>
<circle cx="318.0" cy="775.5" r="8.7" class="c"/>
<circle cx="320.3" cy="781.4" r="8.7" class="c"/>
<circle cx="334.3" cy="773.2" r="8.7" class="c"/>
<circle cx="351.8" cy="758.0" r="8.7" class="c"/>
<circle cx="350.7" cy="752.2" r="8.7" class="c"/>
<circle cx="271.5" cy="794.5" r="8.7" class="c"/>
<circle cx="272.0" cy="803.1" r="8.7" class="c"/>
<circle cx="261.8" cy="805.8" r="8.7" class="c"/>
<circle cx="252.2" cy="812.4" r="8.7" class="c"/>
<circle cx="266.7" cy="817.2" r="8.7" class="c"/>
<circle cx="281.1" cy="814.5" r="8.7" class="c"/>
<circle cx="290.7" cy="817.2" r="8.7" class="c"/>
<circle cx="228.9" cy="830.6" r="8.7" class="c"/>
<circle cx="233.4" cy="821.2" r="8.7" class="c"/>
<line x1="71.8" y1="902.3" x2="682" y2="582.8" stroke="#7f7f7f" stroke-opacity="0.5" stroke-width="6.6" stroke-linecap="round"/>
<rect x="352.9" y="777.6" width="13.2" height="13.2" class="p"/>
<rect x="79.7" y="903.7" width="13.2" height="13.2" class="p"/>
<rect x="421.9" y="718.1" width="13.2" height="13.2" class="p"/>
<text x="79.9" y="543.2" font-size="20.5" text-anchor="start" fill="#000" >b</text>
<text x="380" y="1017.3" font-size="20.2" text-anchor="middle" fill="#333">&#916;<tspan font-size="10" letter-spacing="1.2" dx="1.0" dy="-9.6">201</tspan><tspan dx="0.3" dy="9.6">Hg (&#8240;)</tspan></text>
<text transform="translate(17.2,741.4) rotate(-90)" font-size="20.2" text-anchor="middle" fill="#333">&#916;<tspan font-size="10" letter-spacing="1.2" dx="1.0" dy="-9.6">199</tspan><tspan dx="0.3" dy="9.6">Hg (&#8240;)</tspan></text>
<text x="208.0" y="647.5" font-size="15.0" text-anchor="middle" fill="#444" >Slope = 1.08 &#177; 0.07 (SE)</text>
<text x="207.6" y="662" font-size="14.5" text-anchor="middle" fill="#444" >R&#178; = 0.91, p &lt; 0.01</text>
<path d="M427.4 801.9L431.5 809.1L423.3 809.1Z" class="cf"/>
<text x="436.3" y="811.5" font-size="18.3" text-anchor="start" fill="#000" >CFB</text>
<circle cx="427.4" cy="828.8" r="3.6" class="mg"/>
<text x="436.3" y="834.5" font-size="18.3" text-anchor="start" fill="#000" >Magellan Seamount</text>
<path d="M427.4 847.4L431.8 851.8L427.4 856.2L423.0 851.8Z" class="af"/>
<text x="436.3" y="857.5" font-size="18.3" text-anchor="start" fill="#000" >Afar</text>
<path d="M427.4 871.2L431.0 874.8L427.4 878.4L423.8 874.8Z" class="ic"/>
<text x="436.3" y="880.5" font-size="18.3" text-anchor="start" fill="#000" >Iceland</text>
<rect x="421.0" y="891.9" width="12.4" height="12.4" class="sm"/><path d="M421.6 892.5L432.8 903.7M432.8 892.5L421.6 903.7" class="smx"/>
<text x="436.3" y="903.5" font-size="18.3" text-anchor="start" fill="#000" >Samoa EM2</text>
<rect x="422.2" y="916.1" width="9.9" height="9.9" class="p"/>
<text x="436.3" y="926.5" font-size="18.3" text-anchor="start" fill="#000" >Pitcairn EM1</text>
<circle cx="427.3" cy="944.4" r="4.8" class="c"/>
<text x="436.3" y="949.5" font-size="18.3" text-anchor="start" fill="#000" >Continental EM1 (this study)</text>
</svg></body></html>
